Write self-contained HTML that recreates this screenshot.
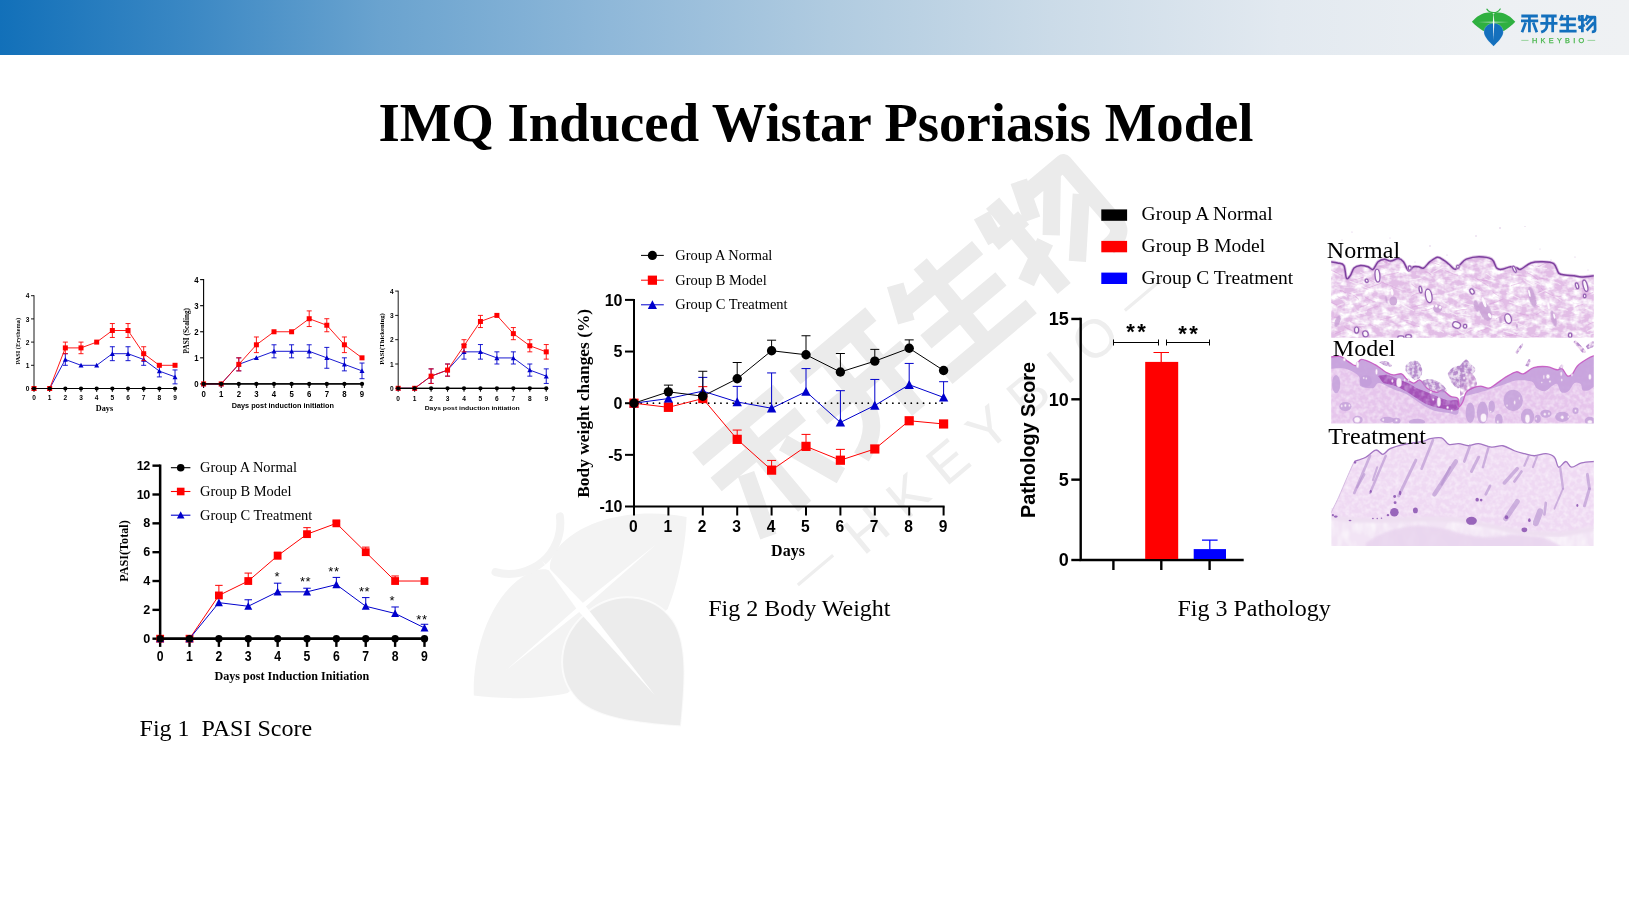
<!DOCTYPE html>
<html lang="en"><head><meta charset="utf-8"><title>IMQ Induced Wistar Psoriasis Model</title>
<style>
html,body{margin:0;padding:0;background:#fff;overflow:hidden;}
body{width:1629px;height:909px;position:relative;overflow:hidden;font-family:"Liberation Serif",serif;color:#000;}
#hdr{position:absolute;left:0;top:0;width:1629px;height:55px;background:linear-gradient(90deg,#1270b9 0px,#3b88c4 190px,#6aa3cf 380px,#8fb8d9 610px,#b0cbe0 830px,#cbdbe8 1050px,#e2e9f0 1280px,#edf0f3 1500px,#eff1f3 1629px);}
#art{position:absolute;left:0;top:0;will-change:transform;}
#hlogo{position:absolute;left:0;top:0;will-change:transform;}
h1{position:absolute;left:0;top:0;margin:0;width:1629px;text-align:center;font:bold 54.7px/1 "Liberation Serif",serif;white-space:nowrap;}
.cap{position:absolute;font:24px/1 "Liberation Serif",serif;white-space:pre;}
.lab{position:absolute;font:24px/1 "Liberation Serif",serif;white-space:pre;}
</style></head><body>
<div id="hdr"></div>
<svg id="art" width="1629" height="909" viewBox="0 0 1629 909">
<g transform="translate(580.2 606.3) rotate(-40) scale(6.4) translate(-1493.6 -21.8)">
<path d="M1471.9 21.8 C1476 16.5 1484 11.3 1490.5 12.6 C1492.3 13 1493.3 13.8 1493.6 14.6 C1493.9 13.8 1494.9 13 1496.7 12.6 C1503.2 11.3 1511.2 16.5 1515.3 21.8 C1512 25.5 1507 29.3 1503.8 30.9 L1483.4 30.9 C1480.2 29.3 1475.2 25.5 1471.9 21.8Z" fill="#f3f3f3"/>
<path d="M1486.9 9.2 C1488.5 11.6 1491.3 12.7 1493.6 12.7 C1495.9 12.7 1498.6 11.5 1500.2 9 " stroke="#f3f3f3" stroke-width="1.25" fill="none" stroke-linecap="round"/>
<path d="M1493.6 23.2 C1499.5 23.2 1503.6 27.6 1503.3 32.6 C1503 37.2 1497.5 42.5 1493.6 46.3 C1489.7 42.5 1484.2 37.2 1483.9 32.6 C1483.6 27.6 1487.7 23.2 1493.6 23.2Z" fill="#ececec" stroke="#ffffff" stroke-width="0.3" stroke-opacity="0.7"/>
<path d="M1493.6 12.5 L1494.3 22 L1493.6 40 L1492.9 22Z" fill="#ffffff" opacity="1"/>
<path d="M1478 22 L1493.6 21.65 L1509 22 L1493.6 22.4Z" fill="#ffffff" opacity="1"/>
<path transform="translate(1522.1 14.96) scale(0.172 0.174)" d="M2 6 H98 M0 34 H100 M49 0 V100 M27 44 L6 100 M71 44 L92 100" stroke="#ebebeb" stroke-width="15.61" fill="none" stroke-linejoin="round"/>
<path transform="translate(1541.4 14.96) scale(0.172 0.174)" d="M5 6 H95 M0 49 H100 M38.5 6 V60 Q38 88 5 99 M72 6 V100" stroke="#ebebeb" stroke-width="15.61" fill="none" stroke-linejoin="round"/>
<path transform="translate(1560.5 14.96) scale(0.172 0.174)" d="M18 0 L4 32 M9 22 H97 M47.6 0 V93 M6 57 H95 M0 93.4 H100" stroke="#ebebeb" stroke-width="15.61" fill="none" stroke-linejoin="round"/>
<path transform="translate(1579.5 14.96) scale(0.172 0.174)" d="M23 0 V100 M8 2 L3 28 M0 28 H36 M0 74 L37 57 M54 0 L41 34 M47 13 H96 L97 86 Q96 97 78 97 M81 15 L45 56 M90 45 L48 89" stroke="#ebebeb" stroke-width="15.61" fill="none" stroke-linejoin="round"/>
<text x="1532.5" y="44.3" font-size="8.4" letter-spacing="2.59" fill="#eeeeee" font-family="Liberation Sans, sans-serif">HKEYBIO</text>
<path d="M1521.8 41.1H1529M1588.5 41.1H1596.2" stroke="#eeeeee" stroke-width="0.5"/>
</g>
<defs>
<filter id="tex1" x="0" y="0" width="100%" height="100%" color-interpolation-filters="sRGB"><feTurbulence type="fractalNoise" baseFrequency="0.11 0.16" numOctaves="3" seed="3" result="n"/><feColorMatrix in="n" type="matrix" values="0 0 0 0 1  0 0 0 0 1  0 0 0 0 1  2.6 0 0 0 -0.92" result="w"/><feComposite in="w" in2="SourceGraphic" operator="in" result="ww"/><feMerge><feMergeNode in="SourceGraphic"/><feMergeNode in="ww"/></feMerge></filter>
<filter id="tex2" x="0" y="0" width="100%" height="100%" color-interpolation-filters="sRGB"><feTurbulence type="fractalNoise" baseFrequency="0.22" numOctaves="2" seed="7" result="n"/><feColorMatrix in="n" type="matrix" values="0 0 0 0 1  0 0 0 0 1  0 0 0 0 1  1.0 0 0 0 -0.36" result="w"/><feComposite in="w" in2="SourceGraphic" operator="in" result="ww"/><feMerge><feMergeNode in="SourceGraphic"/><feMergeNode in="ww"/></feMerge></filter>
<filter id="tex3" x="0" y="0" width="100%" height="100%" color-interpolation-filters="sRGB"><feTurbulence type="fractalNoise" baseFrequency="0.12 0.06" numOctaves="2" seed="11" result="n"/><feColorMatrix in="n" type="matrix" values="0 0 0 0 1  0 0 0 0 1  0 0 0 0 1  1.2 0 0 0 -0.4" result="w"/><feComposite in="w" in2="SourceGraphic" operator="in" result="ww"/><feMerge><feMergeNode in="SourceGraphic"/><feMergeNode in="ww"/></feMerge></filter>
<filter id="bl0" x="-50%" y="-50%" width="200%" height="200%"><feGaussianBlur stdDeviation="0.6"/></filter>
<filter id="mot" x="-5%" y="-5%" width="110%" height="110%" color-interpolation-filters="sRGB"><feTurbulence type="fractalNoise" baseFrequency="0.28" numOctaves="2" seed="4" result="n"/><feColorMatrix in="n" type="matrix" values="0 0 0 0 0  0 0 0 0 0  0 0 0 0 0  3.2 0 0 0 -1.05" result="a"/><feComposite in="SourceGraphic" in2="a" operator="in"/><feGaussianBlur stdDeviation="0.35"/></filter>
<filter id="mot2" x="-5%" y="-5%" width="110%" height="110%" color-interpolation-filters="sRGB"><feTurbulence type="fractalNoise" baseFrequency="0.2" numOctaves="2" seed="9" result="n"/><feColorMatrix in="n" type="matrix" values="0 0 0 0 0  0 0 0 0 0  0 0 0 0 0  2.6 0 0 0 -0.6" result="a"/><feComposite in="SourceGraphic" in2="a" operator="in"/><feGaussianBlur stdDeviation="0.5"/></filter>
<filter id="soft" x="0" y="0" width="100%" height="100%"><feGaussianBlur stdDeviation="0.45"/></filter>
<filter id="bl1" x="-10%" y="-10%" width="120%" height="120%"><feGaussianBlur stdDeviation="0.6"/></filter>
<filter id="bl2" x="-10%" y="-10%" width="120%" height="120%"><feGaussianBlur stdDeviation="1.2"/></filter>
<clipPath id="h1"><rect x="1331.2" y="226" width="262.6" height="111.8"/></clipPath>
<clipPath id="h2"><rect x="1331.2" y="338.1" width="262.6" height="85.5"/></clipPath>
<clipPath id="h3"><rect x="1331.2" y="424" width="262.6" height="121.9"/></clipPath>
</defs>
<g clip-path="url(#h1)"><g filter="url(#soft)">
<clipPath id="c1"><path d="M1330.2 261.71C1331.43 261.92 1335.31 262.34 1337.59 262.97C1339.88 263.61 1342.45 262.97 1343.92 265.51C1345.4 268.04 1345.4 276.48 1346.46 278.16C1347.51 279.85 1348.99 277.32 1350.25 275.63C1351.52 273.95 1352.36 269.73 1354.05 268.04C1355.74 266.35 1358.06 265.72 1360.38 265.51C1362.7 265.3 1365.86 266.14 1367.97 266.77C1370.08 267.41 1371.35 270.15 1373.04 269.3C1374.73 268.46 1376.2 263.4 1378.1 261.71C1380 260.02 1382.32 259.28 1384.43 259.18C1386.54 259.07 1388.44 261.18 1390.76 261.08C1393.08 260.97 1396.24 258.44 1398.35 258.54C1400.46 258.65 1401.73 259.7 1403.42 261.71C1405.11 263.71 1406.79 269.73 1408.48 270.57C1410.17 271.41 1411.86 267.41 1413.54 266.77C1415.23 266.14 1416.92 266.56 1418.61 266.77C1420.3 266.98 1421.77 268.88 1423.67 268.04C1425.57 267.19 1427.68 263.5 1430 261.71C1432.32 259.92 1435.27 257.49 1437.59 257.28C1439.92 257.07 1442.03 259.28 1443.92 260.44C1445.82 261.6 1447.09 262.76 1448.99 264.24C1450.89 265.72 1453.42 269.3 1455.32 269.3C1457.22 269.3 1458.54 265.93 1460.38 264.24C1462.22 262.55 1463.23 260.44 1466.33 259.18C1469.43 257.91 1474.77 256.65 1478.99 256.65C1483.21 256.65 1488.69 257.28 1491.65 259.18C1494.6 261.08 1495.02 266.35 1496.71 268.04C1498.4 269.73 1499.45 269.51 1501.77 269.3C1504.09 269.09 1508.1 266.98 1510.63 266.77C1513.16 266.56 1515.27 267.62 1516.96 268.04C1518.65 268.46 1518.44 270.15 1520.76 269.3C1523.08 268.46 1527.3 264.24 1530.89 262.97C1534.47 261.71 1538.48 261.6 1542.28 261.71C1546.08 261.81 1550.93 261.71 1553.67 263.61C1556.41 265.51 1556.84 271.2 1558.73 273.1C1560.63 275 1562.53 274.58 1565.06 275C1567.59 275.42 1571.18 275.32 1573.92 275.63C1576.67 275.95 1578.04 276.9 1581.52 276.9C1585 276.9 1592.59 275.84 1594.8 275.63L1594.8 340L1330.2 340Z"/></clipPath>
<path d="M1330.2 261.71C1331.43 261.92 1335.31 262.34 1337.59 262.97C1339.88 263.61 1342.45 262.97 1343.92 265.51C1345.4 268.04 1345.4 276.48 1346.46 278.16C1347.51 279.85 1348.99 277.32 1350.25 275.63C1351.52 273.95 1352.36 269.73 1354.05 268.04C1355.74 266.35 1358.06 265.72 1360.38 265.51C1362.7 265.3 1365.86 266.14 1367.97 266.77C1370.08 267.41 1371.35 270.15 1373.04 269.3C1374.73 268.46 1376.2 263.4 1378.1 261.71C1380 260.02 1382.32 259.28 1384.43 259.18C1386.54 259.07 1388.44 261.18 1390.76 261.08C1393.08 260.97 1396.24 258.44 1398.35 258.54C1400.46 258.65 1401.73 259.7 1403.42 261.71C1405.11 263.71 1406.79 269.73 1408.48 270.57C1410.17 271.41 1411.86 267.41 1413.54 266.77C1415.23 266.14 1416.92 266.56 1418.61 266.77C1420.3 266.98 1421.77 268.88 1423.67 268.04C1425.57 267.19 1427.68 263.5 1430 261.71C1432.32 259.92 1435.27 257.49 1437.59 257.28C1439.92 257.07 1442.03 259.28 1443.92 260.44C1445.82 261.6 1447.09 262.76 1448.99 264.24C1450.89 265.72 1453.42 269.3 1455.32 269.3C1457.22 269.3 1458.54 265.93 1460.38 264.24C1462.22 262.55 1463.23 260.44 1466.33 259.18C1469.43 257.91 1474.77 256.65 1478.99 256.65C1483.21 256.65 1488.69 257.28 1491.65 259.18C1494.6 261.08 1495.02 266.35 1496.71 268.04C1498.4 269.73 1499.45 269.51 1501.77 269.3C1504.09 269.09 1508.1 266.98 1510.63 266.77C1513.16 266.56 1515.27 267.62 1516.96 268.04C1518.65 268.46 1518.44 270.15 1520.76 269.3C1523.08 268.46 1527.3 264.24 1530.89 262.97C1534.47 261.71 1538.48 261.6 1542.28 261.71C1546.08 261.81 1550.93 261.71 1553.67 263.61C1556.41 265.51 1556.84 271.2 1558.73 273.1C1560.63 275 1562.53 274.58 1565.06 275C1567.59 275.42 1571.18 275.32 1573.92 275.63C1576.67 275.95 1578.04 276.9 1581.52 276.9C1585 276.9 1592.59 275.84 1594.8 275.63L1594.8 340L1330.2 340Z" fill="#e2bde6" filter="url(#tex1)"/>
<path d="M1496 318.83Q1503.67 314.63 1508.8 313.26M1453.13 335.36Q1459.22 333.74 1465.5 333.65M1474.43 305.06Q1478.42 307.23 1479.91 307.81M1369.71 323.37Q1371.37 326.39 1376.03 327.19M1383.3 275.67Q1392.41 274.11 1398.76 272.32M1510.98 274.79Q1519.82 274.99 1526.3 276.4M1424.66 271.61Q1428.32 271.75 1431.37 274.87M1511 285.71Q1514.8 284.32 1519.71 283.04M1518.29 262.67Q1527.02 262.93 1533.67 266.08M1540.94 288.03Q1544.89 292.65 1550.75 294.55M1379.77 319.97Q1386.77 318.24 1394.64 316.37M1537.63 266.86Q1542.27 265.19 1549.7 260.85M1351.06 285.94Q1358.22 284.66 1362.83 283.11M1411.37 283.98Q1415.29 287.44 1418.07 287.93M1370.23 261.98Q1376.76 265.34 1384.86 268.14M1551.45 295.36Q1555.11 296.01 1561.58 296.7M1554.76 268.71Q1561.85 265.17 1567.21 263.99M1444.66 270.24Q1452.88 273.93 1458.11 275.51M1592.26 295.19Q1596.84 293.31 1602.67 292.01M1366.14 288.91Q1373.57 285.63 1381 283.31M1350.5 280.33Q1358.06 279.48 1363.91 276.98M1515.55 312.45Q1521.49 314.04 1528.75 315.71M1536.03 314.65Q1540.44 311.57 1544.36 311.41M1475.31 278.56Q1482 280.61 1487.81 280.87M1421.03 310.81Q1428.56 310.33 1434.03 307.63M1513.84 338.04Q1520.19 341.6 1528.55 343.14M1581.73 297.13Q1586.68 295.42 1593.59 292.03M1484.54 312.58Q1489.95 314.28 1494.53 314.66M1333.73 271.12Q1338.87 273.99 1342.89 276.08M1337.61 296.67Q1340.6 297.84 1344.69 300.92M1378.91 260.92Q1384.28 261.66 1389.12 263.98M1572.41 258.05Q1575.89 260.99 1581.68 261.93M1428.12 260.96Q1433.39 263.14 1439.62 264.84M1587.43 325.12Q1591.8 322.21 1596.94 321.46M1488.65 304.24Q1495.51 302.73 1503.27 298.86M1326.46 266.85Q1331.85 271.01 1336.47 272.82M1428.66 293.4Q1432.41 295.2 1436.88 294.24M1575.29 306.86Q1579.14 305.03 1583.49 304.28M1594.51 298.32Q1598.66 300.46 1602.08 302.93M1406.1 322.1Q1412.17 325.73 1419.59 326.75M1539.35 278.14Q1543.05 278.87 1547.99 278.95M1455.58 310.88Q1462.33 309.45 1467.51 309.21M1471.63 285.56Q1475.4 287.91 1480 288.79M1487.25 260.99Q1492.64 261.68 1495.7 262.1M1330.17 321.83Q1335.56 322.99 1340.15 324.27M1574.73 289.61Q1579.01 289.75 1584.5 287.9M1344.21 326.57Q1350.85 330.69 1355.8 332.33M1365.1 297.23Q1369.26 299.92 1375.5 302.1M1547.5 263.61Q1551.76 260.45 1555.04 260.13M1523.18 338.25Q1532.15 336.54 1539.07 336.52M1502.23 336.08Q1509.37 337.93 1514 341.88M1492.65 291.94Q1494.64 293.69 1498.99 296.17M1345.83 262.72Q1349.97 259.85 1356.3 257.39M1411.95 307.22Q1415.9 306.46 1422.51 304.52M1367.39 309.77Q1372.99 307.27 1377.86 306.19M1476.59 278.84Q1481.58 281.93 1488.17 285.8M1527.04 272.7Q1533.08 275 1538.12 279.75M1360.22 306.71Q1363.7 306.37 1368.24 304.25M1334.23 317.45Q1338.02 316.99 1340.73 318.18M1357.84 337.76Q1364.47 336.39 1370.35 335.89M1390.27 285.33Q1394.74 288.73 1401.4 290.15M1502.81 323.97Q1508.01 322.6 1512.65 320.79M1527.97 290.43Q1529.64 293.29 1534.07 293.8M1457.32 320.35Q1460.65 320.57 1463.26 321.22M1453.12 266.18Q1456.23 268.84 1460.02 269.22M1367.67 278.83Q1370.8 280.73 1375.53 282.73M1334.95 333.81Q1339.96 331.9 1343.92 330.15M1583.92 267.67Q1590.74 268.28 1596.18 270.9M1381 260.04Q1386.24 261.26 1388.65 263.28M1411.21 296.38Q1414.26 293.88 1419.34 292.94M1509.44 335.12Q1514.15 334.42 1521.83 336.36M1538.63 291.63Q1541.89 291.48 1545.05 292.23M1351.77 263.84Q1357.87 263.97 1366.65 265.65M1339.95 290.58Q1342.42 290.51 1346.04 293.14M1336.45 337.67Q1340.13 337.94 1343.63 340.71M1411.77 266.85Q1418.2 264.05 1422.5 262.96M1330.95 302.25Q1336.3 305.11 1340.89 306.62M1575.08 283.22Q1579.09 281.69 1585.39 281.29M1350.09 321.34Q1354.91 324.24 1362.24 328.67M1349.19 293.15Q1354.72 295.01 1359.04 299.59M1380.68 281.45Q1384.62 284.06 1389.68 285.16M1477.79 331.48Q1483.53 330.35 1489.62 327.32M1504.88 336.29Q1512.32 334.59 1517.88 333.6M1361.7 263.41Q1364.78 263.07 1369.15 265.36M1534.41 303.69Q1536.67 306.39 1539.78 306.93" fill="none" stroke="#d596d8" stroke-width="0.9" opacity="0.5" clip-path="url(#c1)"/>
<path d="M1584.96 308.18Q1588.24 308.42 1592.54 311.58M1485.51 325.81Q1490.8 328.61 1498.05 330.15M1447.84 334.96Q1455.38 337.84 1460.43 340.96M1444.55 294.2Q1452.45 292.34 1457.53 289.9M1354.43 324.77Q1358.1 325.5 1364.58 325.77M1457.59 330.31Q1461.13 332.72 1466.46 334.77M1423.52 319.59Q1428.69 322.56 1430.98 323.48M1557.86 308.69Q1562.76 308.18 1567.72 310.44M1372.42 266.1Q1379.8 264.43 1385.4 263.81M1512.36 328.78Q1516.81 327.29 1524.21 325.73M1486.13 273.15Q1489.66 275.58 1494.31 278.71M1455.99 315.67Q1461.77 314.11 1465.01 311.39M1508.89 302.01Q1516.11 304.14 1522.25 306.15M1403.67 264.38Q1407.72 266.06 1410.22 266.45M1409.83 334.19Q1414.93 334.19 1418.52 333.16M1587.05 331.57Q1593.29 328.13 1598.87 326.44M1467.05 331.48Q1470.71 328.65 1475 328.81M1432.56 272.61Q1438.44 269.35 1443.65 266.77M1355.89 314.48Q1362.63 312.19 1367.06 311.62M1409.5 279.95Q1415.93 279.77 1421.57 278M1387.44 263.14Q1393.32 260.25 1397.83 257.85M1442.16 301.36Q1449.21 306.12 1455.62 308.09M1377.24 260.5Q1379.72 260.61 1384.09 262.58M1488.27 311Q1494.63 311.27 1501.08 309.53M1587.14 284.11Q1593.52 285.61 1601.52 285.93M1555.38 297.09Q1557.18 297.81 1561.43 300.63M1494.05 266.6Q1501.09 264.33 1506.32 260.77M1578.1 336.47Q1582.99 334.35 1590.25 334.85M1382.47 288.7Q1386.38 289.58 1392.8 291.03M1474.35 288.76Q1478.18 290.2 1480.92 291.66M1588.63 335.49Q1591.11 333.03 1594.82 332.86M1456.78 287.04Q1462.62 285.36 1469.72 283.68M1516.17 322.7Q1522.54 325.23 1526.83 327.65M1339.94 292.5Q1342.77 293.56 1346.98 297.04M1456.38 338.74Q1460.82 339 1467.71 340.13M1547.22 258.42Q1552.1 262.16 1558.47 266.16M1430.56 300.37Q1433.63 300.62 1437.05 301.03M1349.47 280.89Q1355.44 283.2 1364.1 286.15M1538.4 293.65Q1544.38 290.1 1549.54 289.34M1332.69 321.1Q1338.51 318.55 1341.83 316.72M1598.54 320.01Q1605.61 322.92 1613.16 323M1597.21 275.77Q1601.34 278.09 1606.75 279.41M1359.82 271.88Q1365.86 275.15 1369.52 276.1M1379.77 259.52Q1385.39 256.29 1393.2 254.64M1577.04 334.88Q1579.26 336.83 1582.89 337.26M1427.86 321.57Q1432.21 320.71 1435.35 322.32M1356.45 310.77Q1361.26 313.89 1365.58 314.21M1391.87 304.63Q1394.98 305.55 1400.28 306.58M1518.59 258.67Q1525.37 261.88 1531.48 263.33M1341.48 299.04Q1342.95 299.77 1347.28 301.7M1448.88 311.7Q1456.72 315.51 1463.29 316.69M1585.08 339.02Q1588.28 339.42 1594.03 340.12M1526.89 301.36Q1531.87 301.28 1536.54 299.22M1363.82 286.78Q1368.48 288.09 1373.41 292.05M1350.17 286.05Q1353.14 286.16 1357.45 284.56M1528.24 279.49Q1535.19 281.56 1541.36 285.16M1398 329.87Q1402.04 327.68 1408.25 328.17M1527.85 304.02Q1530.83 305.68 1533.85 305.11M1337.04 306.29Q1340.74 304.21 1343.77 303.8M1584.9 267.1Q1586.41 268.75 1590.52 270.64M1503.08 331.15Q1510.47 331.8 1515.8 334.73M1531.88 279.21Q1536.31 281.37 1540.66 281.12M1453.1 270.74Q1456.27 269.98 1461.21 271.68M1422.36 264.49Q1426.32 264.77 1432.24 267.22M1460.1 314.35Q1464.23 314.35 1470.48 315.74M1460.8 301.96Q1467.8 304.77 1475.28 305.88M1554.07 282.08Q1558.47 282.82 1560.53 284.99M1497.77 310.53Q1504.89 310.95 1513 313.74M1498.49 327.24Q1504.03 328.25 1510.26 328.44M1523.56 279.38Q1526.52 282.71 1532.1 284.74M1438.11 329.31Q1442.32 331.82 1443.87 332.59M1570.54 299.52Q1572.23 301.38 1576.75 302.85M1405.25 266.84Q1410.02 262.99 1415 261.51M1535.75 267.41Q1541.54 267.76 1547.07 268.48M1400.4 303.18Q1407.34 308.21 1414.19 310.74M1430.27 309.98Q1437.82 310.3 1445.19 312.79M1340.81 335Q1346.31 335.69 1351.38 336.38M1403.66 319.02Q1408.15 318.83 1412.02 320.84M1381.46 314.99Q1386.98 314.58 1394.7 316.16M1350.66 294.6Q1357.28 292.46 1362.71 292.68M1484.41 278.65Q1487.93 280.55 1493.71 280.87M1417.92 306.52Q1425.3 306.81 1430.17 308.41M1417.19 329.91Q1422.01 330.2 1423.96 332.72M1504.77 320.08Q1510.8 321.91 1517.96 321.62M1506.48 292.51Q1513.7 295.54 1519.53 298.54" fill="none" stroke="#fff" stroke-width="1.1" opacity="0.55" clip-path="url(#c1)"/>
<circle cx="1352" cy="232" r="0.6" fill="#c9a6d6" opacity="0.7"/>
<circle cx="1390" cy="238" r="0.5" fill="#c9a6d6" opacity="0.7"/>
<circle cx="1430" cy="246" r="0.7" fill="#c9a6d6" opacity="0.7"/>
<circle cx="1447" cy="255" r="0.6" fill="#c9a6d6" opacity="0.7"/>
<circle cx="1476" cy="236" r="0.7" fill="#c9a6d6" opacity="0.7"/>
<circle cx="1500" cy="228" r="0.8" fill="#c9a6d6" opacity="0.7"/>
<circle cx="1525" cy="226" r="0.7" fill="#c9a6d6" opacity="0.7"/>
<circle cx="1551" cy="260" r="0.6" fill="#c9a6d6" opacity="0.7"/>
<circle cx="1575" cy="257" r="0.6" fill="#c9a6d6" opacity="0.7"/>
<circle cx="1482" cy="257" r="0.5" fill="#c9a6d6" opacity="0.7"/>
<circle cx="1540" cy="249" r="0.5" fill="#c9a6d6" opacity="0.7"/>
<circle cx="1342" cy="240" r="0.5" fill="#c9a6d6" opacity="0.7"/>
<circle cx="1415" cy="262" r="0.5" fill="#c9a6d6" opacity="0.7"/>
<circle cx="1466" cy="262" r="0.5" fill="#c9a6d6" opacity="0.7"/>
<circle cx="1588" cy="270" r="0.5" fill="#c9a6d6" opacity="0.7"/>
<path d="M1330.2 261.71C1331.43 261.92 1335.31 262.34 1337.59 262.97C1339.88 263.61 1342.45 262.97 1343.92 265.51C1345.4 268.04 1345.4 276.48 1346.46 278.16C1347.51 279.85 1348.99 277.32 1350.25 275.63C1351.52 273.95 1352.36 269.73 1354.05 268.04C1355.74 266.35 1358.06 265.72 1360.38 265.51C1362.7 265.3 1365.86 266.14 1367.97 266.77C1370.08 267.41 1371.35 270.15 1373.04 269.3C1374.73 268.46 1376.2 263.4 1378.1 261.71C1380 260.02 1382.32 259.28 1384.43 259.18C1386.54 259.07 1388.44 261.18 1390.76 261.08C1393.08 260.97 1396.24 258.44 1398.35 258.54C1400.46 258.65 1401.73 259.7 1403.42 261.71C1405.11 263.71 1406.79 269.73 1408.48 270.57C1410.17 271.41 1411.86 267.41 1413.54 266.77C1415.23 266.14 1416.92 266.56 1418.61 266.77C1420.3 266.98 1421.77 268.88 1423.67 268.04C1425.57 267.19 1427.68 263.5 1430 261.71C1432.32 259.92 1435.27 257.49 1437.59 257.28C1439.92 257.07 1442.03 259.28 1443.92 260.44C1445.82 261.6 1447.09 262.76 1448.99 264.24C1450.89 265.72 1453.42 269.3 1455.32 269.3C1457.22 269.3 1458.54 265.93 1460.38 264.24C1462.22 262.55 1463.23 260.44 1466.33 259.18C1469.43 257.91 1474.77 256.65 1478.99 256.65C1483.21 256.65 1488.69 257.28 1491.65 259.18C1494.6 261.08 1495.02 266.35 1496.71 268.04C1498.4 269.73 1499.45 269.51 1501.77 269.3C1504.09 269.09 1508.1 266.98 1510.63 266.77C1513.16 266.56 1515.27 267.62 1516.96 268.04C1518.65 268.46 1518.44 270.15 1520.76 269.3C1523.08 268.46 1527.3 264.24 1530.89 262.97C1534.47 261.71 1538.48 261.6 1542.28 261.71C1546.08 261.81 1550.93 261.71 1553.67 263.61C1556.41 265.51 1556.84 271.2 1558.73 273.1C1560.63 275 1562.53 274.58 1565.06 275C1567.59 275.42 1571.18 275.32 1573.92 275.63C1576.67 275.95 1578.04 276.9 1581.52 276.9C1585 276.9 1592.59 275.84 1594.8 275.63" fill="none" stroke="#c79bd4" stroke-width="3.2" opacity="0.6"/>
<path d="M1330.2 261.71C1331.43 261.92 1335.31 262.34 1337.59 262.97C1339.88 263.61 1342.45 262.97 1343.92 265.51C1345.4 268.04 1345.4 276.48 1346.46 278.16C1347.51 279.85 1348.99 277.32 1350.25 275.63C1351.52 273.95 1352.36 269.73 1354.05 268.04C1355.74 266.35 1358.06 265.72 1360.38 265.51C1362.7 265.3 1365.86 266.14 1367.97 266.77C1370.08 267.41 1371.35 270.15 1373.04 269.3C1374.73 268.46 1376.2 263.4 1378.1 261.71C1380 260.02 1382.32 259.28 1384.43 259.18C1386.54 259.07 1388.44 261.18 1390.76 261.08C1393.08 260.97 1396.24 258.44 1398.35 258.54C1400.46 258.65 1401.73 259.7 1403.42 261.71C1405.11 263.71 1406.79 269.73 1408.48 270.57C1410.17 271.41 1411.86 267.41 1413.54 266.77C1415.23 266.14 1416.92 266.56 1418.61 266.77C1420.3 266.98 1421.77 268.88 1423.67 268.04C1425.57 267.19 1427.68 263.5 1430 261.71C1432.32 259.92 1435.27 257.49 1437.59 257.28C1439.92 257.07 1442.03 259.28 1443.92 260.44C1445.82 261.6 1447.09 262.76 1448.99 264.24C1450.89 265.72 1453.42 269.3 1455.32 269.3C1457.22 269.3 1458.54 265.93 1460.38 264.24C1462.22 262.55 1463.23 260.44 1466.33 259.18C1469.43 257.91 1474.77 256.65 1478.99 256.65C1483.21 256.65 1488.69 257.28 1491.65 259.18C1494.6 261.08 1495.02 266.35 1496.71 268.04C1498.4 269.73 1499.45 269.51 1501.77 269.3C1504.09 269.09 1508.1 266.98 1510.63 266.77C1513.16 266.56 1515.27 267.62 1516.96 268.04C1518.65 268.46 1518.44 270.15 1520.76 269.3C1523.08 268.46 1527.3 264.24 1530.89 262.97C1534.47 261.71 1538.48 261.6 1542.28 261.71C1546.08 261.81 1550.93 261.71 1553.67 263.61C1556.41 265.51 1556.84 271.2 1558.73 273.1C1560.63 275 1562.53 274.58 1565.06 275C1567.59 275.42 1571.18 275.32 1573.92 275.63C1576.67 275.95 1578.04 276.9 1581.52 276.9C1585 276.9 1592.59 275.84 1594.8 275.63" fill="none" stroke="#7d3f9e" stroke-width="1.5" stroke-linejoin="round"/>
<ellipse cx="1377.47" cy="275.63" rx="3.57" ry="7.58" transform="rotate(-5 1377.47 275.63)" fill="#cfa6da" opacity="0.7"/>
<ellipse cx="1377.47" cy="275.63" rx="2.37" ry="6.38" transform="rotate(-5 1377.47 275.63)" fill="#fbf5fb" stroke="#9460b2" stroke-width="1.2"/>
<ellipse cx="1366.71" cy="280.7" rx="2.62" ry="2.87" transform="rotate(-30 1366.71 280.7)" fill="#cfa6da" opacity="0.7"/>
<ellipse cx="1366.71" cy="280.7" rx="1.42" ry="1.67" transform="rotate(-30 1366.71 280.7)" fill="#fbf5fb" stroke="#9460b2" stroke-width="1.2"/>
<ellipse cx="1392.03" cy="292.09" rx="1.42" ry="3.34" transform="rotate(-10 1392.03 292.09)" fill="#fdf9fd"/>
<ellipse cx="1393.29" cy="300.95" rx="3.96" ry="4.56" transform="rotate(0 1393.29 300.95)" fill="#c9a0d6" opacity="0.85" filter="url(#bl1)"/>
<ellipse cx="1420.51" cy="289.56" rx="2.47" ry="4.54" transform="rotate(-10 1420.51 289.56)" fill="#cfa6da" opacity="0.7"/>
<ellipse cx="1420.51" cy="289.56" rx="1.27" ry="3.34" transform="rotate(-10 1420.51 289.56)" fill="#fbf5fb" stroke="#9460b2" stroke-width="1.2"/>
<ellipse cx="1428.73" cy="295.89" rx="4.36" ry="8.04" transform="rotate(-10 1428.73 295.89)" fill="#cfa6da" opacity="0.7"/>
<ellipse cx="1428.73" cy="295.89" rx="3.16" ry="6.84" transform="rotate(-10 1428.73 295.89)" fill="#fbf5fb" stroke="#9460b2" stroke-width="1.2"/>
<ellipse cx="1437.59" cy="308.54" rx="4.43" ry="4.25" transform="rotate(0 1437.59 308.54)" fill="#c9a0d6" opacity="0.85" filter="url(#bl1)"/>
<ellipse cx="1436.33" cy="306.01" rx="1.27" ry="1.52" transform="rotate(0 1436.33 306.01)" fill="#fdf9fd"/>
<ellipse cx="1440.13" cy="307.28" rx="1.27" ry="1.52" transform="rotate(0 1440.13 307.28)" fill="#fdf9fd"/>
<ellipse cx="1337.59" cy="321.2" rx="2.53" ry="6.08" transform="rotate(20 1337.59 321.2)" fill="#c9a0d6" opacity="0.85" filter="url(#bl1)"/>
<ellipse cx="1356.58" cy="330.06" rx="3.26" ry="4.24" transform="rotate(0 1356.58 330.06)" fill="#cfa6da" opacity="0.7"/>
<ellipse cx="1356.58" cy="330.06" rx="2.06" ry="3.04" transform="rotate(0 1356.58 330.06)" fill="#fbf5fb" stroke="#9460b2" stroke-width="1.2"/>
<ellipse cx="1365.44" cy="333.86" rx="3.89" ry="4.24" transform="rotate(-20 1365.44 333.86)" fill="#cfa6da" opacity="0.7"/>
<ellipse cx="1365.44" cy="333.86" rx="2.69" ry="3.04" transform="rotate(-20 1365.44 333.86)" fill="#fbf5fb" stroke="#9460b2" stroke-width="1.2"/>
<ellipse cx="1456.58" cy="325" rx="5.16" ry="4.24" transform="rotate(20 1456.58 325)" fill="#cfa6da" opacity="0.7"/>
<ellipse cx="1456.58" cy="325" rx="3.96" ry="3.04" transform="rotate(20 1456.58 325)" fill="#fbf5fb" stroke="#9460b2" stroke-width="1.2"/>
<ellipse cx="1409.75" cy="268.04" rx="2.62" ry="3.33" transform="rotate(0 1409.75 268.04)" fill="#cfa6da" opacity="0.7"/>
<ellipse cx="1409.75" cy="268.04" rx="1.42" ry="2.13" transform="rotate(0 1409.75 268.04)" fill="#fbf5fb" stroke="#9460b2" stroke-width="1.2"/>
<ellipse cx="1457.85" cy="266.77" rx="2.47" ry="2.72" transform="rotate(0 1457.85 266.77)" fill="#cfa6da" opacity="0.7"/>
<ellipse cx="1457.85" cy="266.77" rx="1.27" ry="1.52" transform="rotate(0 1457.85 266.77)" fill="#fbf5fb" stroke="#9460b2" stroke-width="1.2"/>
<ellipse cx="1386.33" cy="299.68" rx="0.95" ry="3.8" transform="rotate(-10 1386.33 299.68)" fill="#c9a0d6" opacity="0.85" filter="url(#bl1)"/>
<ellipse cx="1400.89" cy="337.66" rx="4.36" ry="3.02" transform="rotate(0 1400.89 337.66)" fill="#cfa6da" opacity="0.7"/>
<ellipse cx="1400.89" cy="337.66" rx="3.16" ry="1.82" transform="rotate(0 1400.89 337.66)" fill="#fbf5fb" stroke="#9460b2" stroke-width="1.2"/>
<ellipse cx="1408.48" cy="336.39" rx="4.05" ry="3.02" transform="rotate(0 1408.48 336.39)" fill="#cfa6da" opacity="0.7"/>
<ellipse cx="1408.48" cy="336.39" rx="2.85" ry="1.82" transform="rotate(0 1408.48 336.39)" fill="#fbf5fb" stroke="#9460b2" stroke-width="1.2"/>
<ellipse cx="1472.03" cy="291.46" rx="3.1" ry="3.93" transform="rotate(-30 1472.03 291.46)" fill="#cfa6da" opacity="0.7"/>
<ellipse cx="1472.03" cy="291.46" rx="1.9" ry="2.73" transform="rotate(-30 1472.03 291.46)" fill="#fbf5fb" stroke="#9460b2" stroke-width="1.2"/>
<ellipse cx="1485.32" cy="311.08" rx="5.54" ry="10.63" transform="rotate(-25 1485.32 311.08)" fill="#c9a0d6" opacity="0.85" filter="url(#bl1)"/>
<ellipse cx="1484.05" cy="302.22" rx="1.42" ry="5.32" transform="rotate(-20 1484.05 302.22)" fill="#fdf9fd"/>
<ellipse cx="1489.75" cy="315.51" rx="1.42" ry="2.73" transform="rotate(-30 1489.75 315.51)" fill="#fdf9fd"/>
<ellipse cx="1508.1" cy="318.67" rx="4.36" ry="6.06" transform="rotate(-15 1508.1 318.67)" fill="#cfa6da" opacity="0.7"/>
<ellipse cx="1508.1" cy="318.67" rx="3.16" ry="4.86" transform="rotate(-15 1508.1 318.67)" fill="#fbf5fb" stroke="#9460b2" stroke-width="1.2"/>
<ellipse cx="1532.15" cy="297.15" rx="3.48" ry="10.63" transform="rotate(-15 1532.15 297.15)" fill="#c9a0d6" opacity="0.85" filter="url(#bl1)"/>
<ellipse cx="1529.37" cy="293.35" rx="0.95" ry="3.8" transform="rotate(-12 1529.37 293.35)" fill="#fdf9fd"/>
<ellipse cx="1548.61" cy="306.01" rx="1.11" ry="3.34" transform="rotate(-10 1548.61 306.01)" fill="#fdf9fd"/>
<ellipse cx="1553.67" cy="318.67" rx="2.53" ry="8.35" transform="rotate(-15 1553.67 318.67)" fill="#c9a0d6" opacity="0.85" filter="url(#bl1)"/>
<ellipse cx="1554.3" cy="316.14" rx="0.95" ry="2.73" transform="rotate(-15 1554.3 316.14)" fill="#fdf9fd"/>
<ellipse cx="1577.09" cy="285.76" rx="2.62" ry="4.24" transform="rotate(-15 1577.09 285.76)" fill="#cfa6da" opacity="0.7"/>
<ellipse cx="1577.09" cy="285.76" rx="1.42" ry="3.04" transform="rotate(-15 1577.09 285.76)" fill="#fbf5fb" stroke="#9460b2" stroke-width="1.2"/>
<ellipse cx="1585.32" cy="285.76" rx="3.26" ry="6.97" transform="rotate(-15 1585.32 285.76)" fill="#cfa6da" opacity="0.7"/>
<ellipse cx="1585.32" cy="285.76" rx="2.06" ry="5.77" transform="rotate(-15 1585.32 285.76)" fill="#fbf5fb" stroke="#9460b2" stroke-width="1.2"/>
<ellipse cx="1584.68" cy="295.89" rx="2.47" ry="3.02" transform="rotate(0 1584.68 295.89)" fill="#cfa6da" opacity="0.7"/>
<ellipse cx="1584.68" cy="295.89" rx="1.27" ry="1.82" transform="rotate(0 1584.68 295.89)" fill="#fbf5fb" stroke="#9460b2" stroke-width="1.2"/>
<ellipse cx="1465.06" cy="326.27" rx="2.78" ry="3.02" transform="rotate(0 1465.06 326.27)" fill="#cfa6da" opacity="0.7"/>
<ellipse cx="1465.06" cy="326.27" rx="1.58" ry="1.82" transform="rotate(0 1465.06 326.27)" fill="#fbf5fb" stroke="#9460b2" stroke-width="1.2"/>
<ellipse cx="1476.46" cy="306.01" rx="2.53" ry="6.08" transform="rotate(-15 1476.46 306.01)" fill="#c9a0d6" opacity="0.85" filter="url(#bl1)"/>
<ellipse cx="1500.51" cy="319.94" rx="1.27" ry="3.34" transform="rotate(-10 1500.51 319.94)" fill="#c9a0d6" opacity="0.85" filter="url(#bl1)"/>
<ellipse cx="1514.43" cy="269.3" rx="2.47" ry="4.54" transform="rotate(-25 1514.43 269.3)" fill="#cfa6da" opacity="0.7"/>
<ellipse cx="1514.43" cy="269.3" rx="1.27" ry="3.34" transform="rotate(-25 1514.43 269.3)" fill="#fbf5fb" stroke="#9460b2" stroke-width="1.2"/>
<ellipse cx="1516.96" cy="326.27" rx="0.95" ry="2.73" transform="rotate(-10 1516.96 326.27)" fill="#c9a0d6" opacity="0.85" filter="url(#bl1)"/>
<ellipse cx="1570.13" cy="335.13" rx="2.78" ry="3.33" transform="rotate(0 1570.13 335.13)" fill="#cfa6da" opacity="0.7"/>
<ellipse cx="1570.13" cy="335.13" rx="1.58" ry="2.13" transform="rotate(0 1570.13 335.13)" fill="#fbf5fb" stroke="#9460b2" stroke-width="1.2"/>
</g></g>
<g clip-path="url(#h2)"><g filter="url(#soft)">
<path d="M1330.2 356.98C1331.87 356.9 1337.19 355.71 1340.22 356.47C1343.26 357.24 1345.85 360.05 1348.4 361.58C1350.96 363.12 1353.52 366.02 1355.56 365.67C1357.61 365.33 1358.46 360.22 1360.67 359.54C1362.89 358.86 1366.47 360.73 1368.85 361.58C1371.24 362.44 1372.94 363.46 1374.99 364.65C1377.03 365.85 1379.08 367.38 1381.12 368.74C1383.17 370.11 1385.21 371.81 1387.26 372.83C1389.3 373.85 1391.01 374.71 1393.39 374.88C1395.78 375.05 1399.36 373.17 1401.57 373.85C1403.79 374.54 1404.64 377.43 1406.69 378.97C1408.73 380.5 1411.63 382.89 1413.84 383.06C1416.06 383.23 1417.76 379.14 1419.98 379.99C1422.19 380.84 1424.41 386.12 1427.14 388.17C1429.86 390.21 1433.78 391.92 1436.34 392.26C1438.9 392.6 1440.09 389.53 1442.47 390.21C1444.86 390.9 1448.1 394.99 1450.65 396.35C1453.21 397.71 1456.41 396.69 1457.81 398.39C1459.21 400.1 1458.19 406.06 1459.04 406.57C1459.89 407.09 1461.74 403.85 1462.92 401.46C1464.11 399.08 1464.58 394.48 1466.13 392.26C1467.69 390.04 1469.88 389.19 1472.27 388.17C1474.66 387.15 1477.72 386.12 1480.45 386.12C1483.18 386.12 1486.07 388.51 1488.63 388.17C1491.19 387.83 1492.89 385.95 1495.79 384.08C1498.68 382.21 1502.6 378.97 1506.01 376.92C1509.42 374.88 1513.34 372.32 1516.24 371.81C1519.13 371.3 1520.5 374.54 1523.39 373.85C1526.29 373.17 1529.7 368.91 1533.62 367.72C1537.54 366.53 1542.99 366.36 1546.91 366.7C1550.83 367.04 1554.58 369.42 1557.14 369.76C1559.69 370.11 1560.55 367.72 1562.25 368.74C1563.95 369.76 1565.66 375.05 1567.36 375.9C1569.07 376.75 1570.77 375.56 1572.47 373.85C1574.18 372.15 1575.03 368.23 1577.59 365.67C1580.14 363.12 1584.94 360.22 1587.81 358.52C1590.68 356.81 1593.64 355.96 1594.8 355.45L1594.8 426L1330.2 426Z" fill="#e6c5ec" filter="url(#tex2)"/>
<ellipse cx="1345.34" cy="406.57" rx="6.13" ry="4.6" fill="#c3a0da" opacity="0.8" filter="url(#bl1)"/>
<ellipse cx="1336.13" cy="384.08" rx="4.09" ry="9.2" fill="#c3a0da" opacity="0.8" filter="url(#bl1)"/>
<ellipse cx="1365.79" cy="381.01" rx="6.13" ry="6.13" fill="#c3a0da" opacity="0.8" filter="url(#bl1)"/>
<ellipse cx="1357.61" cy="419.87" rx="5.11" ry="4.09" fill="#c3a0da" opacity="0.8" filter="url(#bl1)"/>
<ellipse cx="1387.26" cy="419.87" rx="7.16" ry="3.07" fill="#c3a0da" opacity="0.8" filter="url(#bl1)"/>
<ellipse cx="1396.46" cy="420.89" rx="4.09" ry="3.07" fill="#c3a0da" opacity="0.8" filter="url(#bl1)"/>
<ellipse cx="1416.91" cy="421.91" rx="8.18" ry="3.07" fill="#c3a0da" opacity="0.8" filter="url(#bl1)"/>
<ellipse cx="1513.17" cy="400.44" rx="9.71" ry="10.74" fill="#c3a0da" opacity="0.8" filter="url(#bl1)"/>
<ellipse cx="1470.22" cy="412.71" rx="4.6" ry="10.22" fill="#c3a0da" opacity="0.8" filter="url(#bl1)"/>
<ellipse cx="1482.49" cy="412.71" rx="5.62" ry="11.25" fill="#c3a0da" opacity="0.8" filter="url(#bl1)"/>
<ellipse cx="1491.7" cy="406.57" rx="3.27" ry="6.13" fill="#c3a0da" opacity="0.8" filter="url(#bl1)"/>
<ellipse cx="1498.85" cy="419.87" rx="3.89" ry="6.13" fill="#c3a0da" opacity="0.8" filter="url(#bl1)"/>
<ellipse cx="1527.48" cy="416.8" rx="6.65" ry="8.18" fill="#c3a0da" opacity="0.8" filter="url(#bl1)"/>
<ellipse cx="1545.89" cy="413.73" rx="5.62" ry="4.09" fill="#c3a0da" opacity="0.8" filter="url(#bl1)"/>
<ellipse cx="1562.25" cy="416.8" rx="7.16" ry="5.11" fill="#c3a0da" opacity="0.8" filter="url(#bl1)"/>
<ellipse cx="1575.54" cy="410.66" rx="3.07" ry="3.27" fill="#c3a0da" opacity="0.8" filter="url(#bl1)"/>
<ellipse cx="1589.86" cy="420.89" rx="5.11" ry="4.09" fill="#c3a0da" opacity="0.8" filter="url(#bl1)"/>
<ellipse cx="1537.71" cy="418.84" rx="3.07" ry="4.09" fill="#c3a0da" opacity="0.8" filter="url(#bl1)"/>
<path d="M1330.2 356.98C1331.87 356.9 1337.19 355.71 1340.22 356.47C1343.26 357.24 1345.85 360.05 1348.4 361.58C1350.96 363.12 1353.52 366.02 1355.56 365.67C1357.61 365.33 1358.46 360.22 1360.67 359.54C1362.89 358.86 1366.47 360.73 1368.85 361.58C1371.24 362.44 1372.94 363.46 1374.99 364.65C1377.03 365.85 1379.08 367.38 1381.12 368.74C1383.17 370.11 1385.21 371.81 1387.26 372.83C1389.3 373.85 1391.01 374.71 1393.39 374.88C1395.78 375.05 1399.36 373.17 1401.57 373.85C1403.79 374.54 1404.64 377.43 1406.69 378.97C1408.73 380.5 1411.63 382.89 1413.84 383.06C1416.06 383.23 1417.76 379.14 1419.98 379.99C1422.19 380.84 1424.41 386.12 1427.14 388.17C1429.86 390.21 1433.78 391.92 1436.34 392.26C1438.9 392.6 1440.09 389.53 1442.47 390.21C1444.86 390.9 1448.1 394.99 1450.65 396.35C1453.21 397.71 1456.41 396.69 1457.81 398.39C1459.21 400.1 1458.19 406.06 1459.04 406.57C1459.89 407.09 1461.74 403.85 1462.92 401.46C1464.11 399.08 1464.58 394.48 1466.13 392.26C1467.69 390.04 1469.88 389.19 1472.27 388.17C1474.66 387.15 1477.72 386.12 1480.45 386.12C1483.18 386.12 1486.07 388.51 1488.63 388.17C1491.19 387.83 1492.89 385.95 1495.79 384.08C1498.68 382.21 1502.6 378.97 1506.01 376.92C1509.42 374.88 1513.34 372.32 1516.24 371.81C1519.13 371.3 1520.5 374.54 1523.39 373.85C1526.29 373.17 1529.7 368.91 1533.62 367.72C1537.54 366.53 1542.99 366.36 1546.91 366.7C1550.83 367.04 1554.58 369.42 1557.14 369.76C1559.69 370.11 1560.55 367.72 1562.25 368.74C1563.95 369.76 1565.66 375.05 1567.36 375.9C1569.07 376.75 1570.77 375.56 1572.47 373.85C1574.18 372.15 1575.03 368.23 1577.59 365.67C1580.14 363.12 1584.94 360.22 1587.81 358.52C1590.68 356.81 1593.64 355.96 1594.8 355.45L1594.8 386.12C1593.81 386.81 1590.85 389.53 1588.83 390.21C1586.82 390.9 1584.06 391.24 1582.7 390.21C1581.34 389.19 1582.02 385.27 1580.65 384.08C1579.29 382.89 1576.56 381.86 1574.52 383.06C1572.47 384.25 1570.6 389.7 1568.38 391.24C1566.17 392.77 1563.1 393.45 1561.23 392.26C1559.35 391.07 1558.67 385.1 1557.14 384.08C1555.6 383.06 1554.07 384.93 1552.02 386.12C1549.98 387.32 1547.42 390.9 1544.87 391.24C1542.31 391.58 1538.9 389.79 1536.69 388.17C1534.47 386.55 1534.98 382.8 1531.57 381.52C1528.17 380.25 1521.35 379.82 1516.24 380.5C1511.12 381.18 1506.01 383.91 1500.9 385.61C1495.79 387.32 1490.67 389.19 1485.56 390.73C1480.45 392.26 1474.49 393.54 1470.22 394.82C1465.96 396.09 1462.07 395.24 1460 398.39C1457.93 401.55 1459.88 411.35 1457.81 413.73C1455.74 416.12 1451.51 413.22 1447.59 412.71C1443.67 412.2 1438.55 412.03 1434.29 410.66C1430.03 409.3 1426.63 407.26 1422.02 404.53C1417.42 401.8 1411.46 396.86 1406.69 394.3C1401.92 391.75 1398 391.07 1393.39 389.19C1388.79 387.32 1382.49 383.23 1379.08 383.06C1375.67 382.89 1376.01 387.66 1372.94 388.17C1369.88 388.68 1363.06 388.17 1360.67 386.12C1358.29 384.08 1361.19 378.8 1358.63 375.9C1356.07 373 1350.08 369.94 1345.34 368.74C1340.6 367.55 1332.72 368.74 1330.2 368.74Z" fill="#c39edb" opacity="0.85"/>
<path d="M1378.06 375.9C1379.59 375.73 1384.36 374.54 1387.26 374.88C1390.16 375.22 1392.03 376.58 1395.44 377.94C1398.85 379.31 1404.13 381.35 1407.71 383.06C1411.29 384.76 1413.67 386.64 1416.91 388.17C1420.15 389.7 1423.9 390.9 1427.14 392.26C1430.37 393.62 1432.93 394.99 1436.34 396.35C1439.75 397.71 1444.01 399.76 1447.59 400.44C1451.17 401.12 1455.9 399.08 1457.81 400.44C1459.72 401.8 1459.89 406.92 1459.04 408.62C1458.19 410.32 1455.46 410.66 1452.7 410.66C1449.94 410.66 1446.22 409.47 1442.47 408.62C1438.73 407.77 1433.95 406.92 1430.2 405.55C1426.46 404.19 1423.73 402.66 1419.98 400.44C1416.23 398.22 1411.8 394.65 1407.71 392.26C1403.62 389.87 1399.53 387.66 1395.44 386.12C1391.35 384.59 1385.21 383.57 1383.17 383.06Z" fill="#b46cc4" opacity="0.55" filter="url(#bl1)"/>
<path d="M1378.06 375.9C1379.59 375.73 1384.36 374.54 1387.26 374.88C1390.16 375.22 1392.03 376.58 1395.44 377.94C1398.85 379.31 1404.13 381.35 1407.71 383.06C1411.29 384.76 1413.67 386.64 1416.91 388.17C1420.15 389.7 1423.9 390.9 1427.14 392.26C1430.37 393.62 1432.93 394.99 1436.34 396.35C1439.75 397.71 1444.01 399.76 1447.59 400.44C1451.17 401.12 1455.9 399.08 1457.81 400.44C1459.72 401.8 1459.89 406.92 1459.04 408.62C1458.19 410.32 1455.46 410.66 1452.7 410.66C1449.94 410.66 1446.22 409.47 1442.47 408.62C1438.73 407.77 1433.95 406.92 1430.2 405.55C1426.46 404.19 1423.73 402.66 1419.98 400.44C1416.23 398.22 1411.8 394.65 1407.71 392.26C1403.62 389.87 1399.53 387.66 1395.44 386.12C1391.35 384.59 1385.21 383.57 1383.17 383.06Z" fill="#9a3cae" opacity="0.68" filter="url(#mot2)"/>
<path d="M1460 375.9C1461.53 375.22 1466.65 371.47 1469.2 371.81C1471.76 372.15 1474.14 375.56 1475.34 377.94C1476.53 380.33 1477.89 383.74 1476.36 386.12C1474.83 388.51 1468.86 390.56 1466.13 392.26C1463.41 393.96 1461.02 395.67 1460 396.35Z" fill="#a659b8" opacity="0.6" filter="url(#mot2)"/>
<path d="M1330.2 356.98C1331.87 356.9 1337.19 355.71 1340.22 356.47C1343.26 357.24 1345.85 360.05 1348.4 361.58C1350.96 363.12 1353.52 366.02 1355.56 365.67C1357.61 365.33 1358.46 360.22 1360.67 359.54C1362.89 358.86 1366.47 360.73 1368.85 361.58C1371.24 362.44 1372.94 363.46 1374.99 364.65C1377.03 365.85 1379.08 367.38 1381.12 368.74C1383.17 370.11 1385.21 371.81 1387.26 372.83C1389.3 373.85 1391.01 374.71 1393.39 374.88C1395.78 375.05 1399.36 373.17 1401.57 373.85C1403.79 374.54 1404.64 377.43 1406.69 378.97C1408.73 380.5 1411.63 382.89 1413.84 383.06C1416.06 383.23 1417.76 379.14 1419.98 379.99C1422.19 380.84 1424.41 386.12 1427.14 388.17C1429.86 390.21 1433.78 391.92 1436.34 392.26C1438.9 392.6 1440.09 389.53 1442.47 390.21C1444.86 390.9 1448.1 394.99 1450.65 396.35C1453.21 397.71 1456.41 396.69 1457.81 398.39C1459.21 400.1 1458.19 406.06 1459.04 406.57C1459.89 407.09 1461.74 403.85 1462.92 401.46C1464.11 399.08 1464.58 394.48 1466.13 392.26C1467.69 390.04 1469.88 389.19 1472.27 388.17C1474.66 387.15 1477.72 386.12 1480.45 386.12C1483.18 386.12 1486.07 388.51 1488.63 388.17C1491.19 387.83 1492.89 385.95 1495.79 384.08C1498.68 382.21 1502.6 378.97 1506.01 376.92C1509.42 374.88 1513.34 372.32 1516.24 371.81C1519.13 371.3 1520.5 374.54 1523.39 373.85C1526.29 373.17 1529.7 368.91 1533.62 367.72C1537.54 366.53 1542.99 366.36 1546.91 366.7C1550.83 367.04 1554.58 369.42 1557.14 369.76C1559.69 370.11 1560.55 367.72 1562.25 368.74C1563.95 369.76 1565.66 375.05 1567.36 375.9C1569.07 376.75 1570.77 375.56 1572.47 373.85C1574.18 372.15 1575.03 368.23 1577.59 365.67C1580.14 363.12 1584.94 360.22 1587.81 358.52C1590.68 356.81 1593.64 355.96 1594.8 355.45" fill="none" stroke="#c452c0" stroke-width="1.3" opacity="0.85"/>
<path d="M1379.08 362.1C1380.1 361.93 1383.17 360.65 1385.21 361.07C1387.26 361.5 1390.5 363.72 1391.35 364.65C1392.2 365.59 1391.69 366.7 1390.33 366.7C1388.96 366.7 1384.36 364.99 1383.17 364.65Z" fill="#c79fd4" opacity="0.35"/>
<path d="M1379.08 362.1C1380.1 361.93 1383.17 360.65 1385.21 361.07C1387.26 361.5 1390.5 363.72 1391.35 364.65C1392.2 365.59 1391.69 366.7 1390.33 366.7C1388.96 366.7 1384.36 364.99 1383.17 364.65Z" fill="#b083c8" opacity="0.9" filter="url(#mot)"/>
<path d="M1405.66 365.67C1406.52 364.99 1408.73 362.27 1410.78 361.58C1412.82 360.9 1416.06 360.39 1417.93 361.58C1419.81 362.78 1421.51 366.36 1422.02 368.74C1422.54 371.13 1422.02 374.03 1421 375.9C1419.98 377.77 1417.76 379.99 1415.89 379.99C1414.01 379.99 1411.46 377.43 1409.75 375.9C1408.05 374.37 1406.35 371.64 1405.66 370.79Z" fill="#c3a6d6" opacity="0.35"/>
<path d="M1405.66 365.67C1406.52 364.99 1408.73 362.27 1410.78 361.58C1412.82 360.9 1416.06 360.39 1417.93 361.58C1419.81 362.78 1421.51 366.36 1422.02 368.74C1422.54 371.13 1422.02 374.03 1421 375.9C1419.98 377.77 1417.76 379.99 1415.89 379.99C1414.01 379.99 1411.46 377.43 1409.75 375.9C1408.05 374.37 1406.35 371.64 1405.66 370.79Z" fill="#b083c8" opacity="0.9" filter="url(#mot)"/>
<path d="M1422.02 381.01C1423.39 380.67 1427.14 378.63 1430.2 378.97C1433.27 379.31 1437.7 381.18 1440.43 383.06C1443.16 384.93 1446.22 388.68 1446.56 390.21C1446.91 391.75 1444.86 392.26 1442.47 392.26C1440.09 392.26 1435.32 391.24 1432.25 390.21C1429.18 389.19 1425.43 386.81 1424.07 386.12Z" fill="#bf98d0" opacity="0.35"/>
<path d="M1422.02 381.01C1423.39 380.67 1427.14 378.63 1430.2 378.97C1433.27 379.31 1437.7 381.18 1440.43 383.06C1443.16 384.93 1446.22 388.68 1446.56 390.21C1446.91 391.75 1444.86 392.26 1442.47 392.26C1440.09 392.26 1435.32 391.24 1432.25 390.21C1429.18 389.19 1425.43 386.81 1424.07 386.12Z" fill="#b083c8" opacity="0.9" filter="url(#mot)"/>
<path d="M1447.59 373.85C1448.44 372.83 1450.14 369.08 1452.7 367.72C1455.26 366.36 1460.88 365.33 1462.92 365.67C1464.97 366.02 1464.63 366.7 1464.97 369.76C1465.31 372.83 1466.16 381.01 1464.97 384.08C1463.78 387.15 1460.03 388.34 1457.81 388.17C1455.6 388 1452.7 383.91 1451.68 383.06Z" fill="#c29ad2" opacity="0.35"/>
<path d="M1447.59 373.85C1448.44 372.83 1450.14 369.08 1452.7 367.72C1455.26 366.36 1460.88 365.33 1462.92 365.67C1464.97 366.02 1464.63 366.7 1464.97 369.76C1465.31 372.83 1466.16 381.01 1464.97 384.08C1463.78 387.15 1460.03 388.34 1457.81 388.17C1455.6 388 1452.7 383.91 1451.68 383.06Z" fill="#b083c8" opacity="0.9" filter="url(#mot)"/>
<path d="M1460 365.67C1461.02 364.65 1464.43 359.88 1466.13 359.54C1467.84 359.2 1468.69 362.1 1470.22 363.63C1471.76 365.16 1475 367.04 1475.34 368.74C1475.68 370.45 1474.14 373.17 1472.27 373.85C1470.4 374.54 1466.13 372.83 1464.09 372.83C1462.04 372.83 1460.68 373.68 1460 373.85Z" fill="#c9a2d6" opacity="0.35"/>
<path d="M1460 365.67C1461.02 364.65 1464.43 359.88 1466.13 359.54C1467.84 359.2 1468.69 362.1 1470.22 363.63C1471.76 365.16 1475 367.04 1475.34 368.74C1475.68 370.45 1474.14 373.17 1472.27 373.85C1470.4 374.54 1466.13 372.83 1464.09 372.83C1462.04 372.83 1460.68 373.68 1460 373.85Z" fill="#b083c8" opacity="0.9" filter="url(#mot)"/>
<path d="M1515.21 352.38C1516.24 351.02 1520.07 345.4 1521.35 344.2C1522.63 343.01 1523.57 343.61 1522.88 345.22C1522.2 346.84 1518.2 352.47 1517.26 353.92Z" fill="#cfa0d8" opacity="0.35"/>
<path d="M1515.21 352.38C1516.24 351.02 1520.07 345.4 1521.35 344.2C1522.63 343.01 1523.57 343.61 1522.88 345.22C1522.2 346.84 1518.2 352.47 1517.26 353.92Z" fill="#b083c8" opacity="0.9" filter="url(#mot)"/>
<path d="M1573.5 342.16C1574.01 341.99 1574.52 339.6 1576.56 341.13C1578.61 342.67 1584.74 349.4 1585.77 351.36C1586.79 353.32 1583.21 352.64 1582.7 352.89Z" fill="#d08fd0" opacity="0.35"/>
<path d="M1573.5 342.16C1574.01 341.99 1574.52 339.6 1576.56 341.13C1578.61 342.67 1584.74 349.4 1585.77 351.36C1586.79 353.32 1583.21 352.64 1582.7 352.89Z" fill="#b083c8" opacity="0.9" filter="url(#mot)"/>
<path d="M1585.77 346.25C1586.79 345.4 1590.54 341.82 1591.9 341.13C1593.27 340.45 1593.61 341.31 1593.95 342.16C1594.29 343.01 1594.97 345.05 1593.95 346.25C1592.92 347.44 1588.83 348.8 1587.81 349.31Z" fill="#dcb0e0" opacity="0.35"/>
<path d="M1585.77 346.25C1586.79 345.4 1590.54 341.82 1591.9 341.13C1593.27 340.45 1593.61 341.31 1593.95 342.16C1594.29 343.01 1594.97 345.05 1593.95 346.25C1592.92 347.44 1588.83 348.8 1587.81 349.31Z" fill="#b083c8" opacity="0.9" filter="url(#mot)"/>
<path d="M1525.44 365.67C1525.95 364.65 1527.66 360.39 1528.51 359.54C1529.36 358.69 1530.55 359.37 1530.55 360.56C1530.55 361.76 1528.85 365.67 1528.51 366.7Z" fill="#d6a4dc" opacity="0.35"/>
<path d="M1525.44 365.67C1525.95 364.65 1527.66 360.39 1528.51 359.54C1529.36 358.69 1530.55 359.37 1530.55 360.56C1530.55 361.76 1528.85 365.67 1528.51 366.7Z" fill="#b083c8" opacity="0.9" filter="url(#mot)"/>
<path d="M1558.16 368.74C1558.67 368.06 1560.37 365.16 1561.23 364.65C1562.08 364.14 1563.1 364.82 1563.27 365.67C1563.44 366.53 1562.42 369.08 1562.25 369.76Z" fill="#d6a4dc" opacity="0.35"/>
<path d="M1558.16 368.74C1558.67 368.06 1560.37 365.16 1561.23 364.65C1562.08 364.14 1563.1 364.82 1563.27 365.67C1563.44 366.53 1562.42 369.08 1562.25 369.76Z" fill="#b083c8" opacity="0.9" filter="url(#mot)"/>
<ellipse cx="1357.61" cy="364.65" rx="1.43" ry="3.07" fill="#fbf3fb" stroke="#d4b4de" stroke-width="0.5"/>
<ellipse cx="1344.31" cy="359.54" rx="1.23" ry="1.64" fill="#fbf3fb" stroke="#d4b4de" stroke-width="0.5"/>
<ellipse cx="1376.52" cy="371.81" rx="1.23" ry="2.86" fill="#fbf3fb" stroke="#d4b4de" stroke-width="0.5"/>
<ellipse cx="1399.02" cy="382.55" rx="2.56" ry="4.6" fill="#fbf3fb" stroke="#d4b4de" stroke-width="0.5"/>
<ellipse cx="1438.9" cy="401.97" rx="1.84" ry="4.6" fill="#fbf3fb" stroke="#d4b4de" stroke-width="0.5"/>
<ellipse cx="1392.37" cy="381.01" rx="0.82" ry="1.43" fill="#fbf3fb" stroke="#d4b4de" stroke-width="0.5"/>
<ellipse cx="1447.59" cy="407.6" rx="1.02" ry="1.23" fill="#fbf3fb" stroke="#d4b4de" stroke-width="0.5"/>
<ellipse cx="1451.68" cy="410.66" rx="0.82" ry="1.02" fill="#fbf3fb" stroke="#d4b4de" stroke-width="0.5"/>
<ellipse cx="1433.27" cy="399.42" rx="0.82" ry="1.02" fill="#fbf3fb" stroke="#d4b4de" stroke-width="0.5"/>
<ellipse cx="1430.72" cy="392.26" rx="1.02" ry="1.23" fill="#fbf3fb" stroke="#d4b4de" stroke-width="0.5"/>
<ellipse cx="1363.74" cy="377.94" rx="0.82" ry="1.02" fill="#fbf3fb" stroke="#d4b4de" stroke-width="0.5"/>
<ellipse cx="1366.3" cy="378.46" rx="0.72" ry="1.02" fill="#fbf3fb" stroke="#d4b4de" stroke-width="0.5"/>
<ellipse cx="1357.1" cy="419.87" rx="3.07" ry="2.86" fill="#fbf3fb" stroke="#d4b4de" stroke-width="0.5"/>
<ellipse cx="1345.34" cy="405.55" rx="1.02" ry="1.43" fill="#fbf3fb" stroke="#d4b4de" stroke-width="0.5"/>
<ellipse cx="1341.76" cy="406.06" rx="0.92" ry="1.23" fill="#fbf3fb" stroke="#d4b4de" stroke-width="0.5"/>
<ellipse cx="1349.43" cy="405.55" rx="0.82" ry="1.23" fill="#fbf3fb" stroke="#d4b4de" stroke-width="0.5"/>
<ellipse cx="1383.17" cy="419.87" rx="1.02" ry="1.43" fill="#fbf3fb" stroke="#d4b4de" stroke-width="0.5"/>
<ellipse cx="1396.46" cy="420.38" rx="1.02" ry="1.23" fill="#fbf3fb" stroke="#d4b4de" stroke-width="0.5"/>
<ellipse cx="1404.64" cy="379.99" rx="0.82" ry="1.23" fill="#fbf3fb" stroke="#d4b4de" stroke-width="0.5"/>
<ellipse cx="1408.73" cy="379.99" rx="0.72" ry="1.23" fill="#fbf3fb" stroke="#d4b4de" stroke-width="0.5"/>
<ellipse cx="1547.93" cy="376.41" rx="1.84" ry="2.25" fill="#fbf3fb" stroke="#d4b4de" stroke-width="0.5"/>
<ellipse cx="1543.84" cy="376.92" rx="0.72" ry="2.04" fill="#fbf3fb" stroke="#d4b4de" stroke-width="0.5"/>
<ellipse cx="1549.98" cy="381.52" rx="1.02" ry="1.02" fill="#fbf3fb" stroke="#d4b4de" stroke-width="0.5"/>
<ellipse cx="1541.8" cy="382.55" rx="0.82" ry="0.82" fill="#fbf3fb" stroke="#d4b4de" stroke-width="0.5"/>
<ellipse cx="1561.23" cy="373.85" rx="1.02" ry="2.04" fill="#fbf3fb" stroke="#d4b4de" stroke-width="0.5"/>
<ellipse cx="1561.74" cy="379.99" rx="0.82" ry="1.23" fill="#fbf3fb" stroke="#d4b4de" stroke-width="0.5"/>
<ellipse cx="1589.86" cy="376.92" rx="1.43" ry="2.86" fill="#fbf3fb" stroke="#d4b4de" stroke-width="0.5"/>
<ellipse cx="1571.96" cy="374.88" rx="0.82" ry="1.43" fill="#fbf3fb" stroke="#d4b4de" stroke-width="0.5"/>
<ellipse cx="1514.7" cy="402.48" rx="0.92" ry="2.04" fill="#fbf3fb" stroke="#d4b4de" stroke-width="0.5"/>
<ellipse cx="1507.03" cy="405.55" rx="0.82" ry="1.02" fill="#fbf3fb" stroke="#d4b4de" stroke-width="0.5"/>
<ellipse cx="1519.3" cy="398.39" rx="0.51" ry="1.43" fill="#fbf3fb" stroke="#d4b4de" stroke-width="0.5"/>
<ellipse cx="1483.52" cy="417.82" rx="3.07" ry="4.29" fill="#fbf3fb" stroke="#d4b4de" stroke-width="0.5"/>
<ellipse cx="1527.48" cy="418.84" rx="2.45" ry="4.29" fill="#fbf3fb" stroke="#d4b4de" stroke-width="0.5"/>
<ellipse cx="1544.87" cy="414.24" rx="1.23" ry="1.43" fill="#fbf3fb" stroke="#d4b4de" stroke-width="0.5"/>
<ellipse cx="1548.96" cy="413.73" rx="0.92" ry="1.23" fill="#fbf3fb" stroke="#d4b4de" stroke-width="0.5"/>
<ellipse cx="1562.25" cy="417.31" rx="1.64" ry="1.84" fill="#fbf3fb" stroke="#d4b4de" stroke-width="0.5"/>
<ellipse cx="1575.54" cy="410.66" rx="0.92" ry="1.23" fill="#fbf3fb" stroke="#d4b4de" stroke-width="0.5"/>
<ellipse cx="1589.86" cy="421.91" rx="2.45" ry="1.84" fill="#fbf3fb" stroke="#d4b4de" stroke-width="0.5"/>
<ellipse cx="1490.67" cy="411.69" rx="0.82" ry="1.02" fill="#fbf3fb" stroke="#d4b4de" stroke-width="0.5"/>
<ellipse cx="1497.83" cy="421.91" rx="1.02" ry="1.43" fill="#fbf3fb" stroke="#d4b4de" stroke-width="0.5"/>
<ellipse cx="1464.09" cy="377.94" rx="1.02" ry="1.23" fill="#fbf3fb" stroke="#d4b4de" stroke-width="0.5"/>
<ellipse cx="1568.38" cy="416.8" rx="0.82" ry="1.23" fill="#fbf3fb" stroke="#d4b4de" stroke-width="0.5"/>
<ellipse cx="1536.18" cy="418.84" rx="0.82" ry="1.43" fill="#fbf3fb" stroke="#d4b4de" stroke-width="0.5"/>
</g></g>
<g clip-path="url(#h3)"><g filter="url(#soft)">
<rect x="1331.2" y="508" width="262.6" height="40" fill="#f2e4f5" filter="url(#tex3)"/>
<path d="M1365.77 543.03C1369.34 541.13 1378.88 534.45 1387.22 531.59C1395.57 528.73 1406.3 526.34 1415.84 525.87C1425.37 525.39 1436.25 527.3 1444.45 528.73C1452.65 530.16 1457.69 533.02 1465.05 534.45C1472.41 535.88 1479.92 537.31 1488.61 537.31C1497.31 537.31 1507.69 534.21 1517.22 534.45C1526.76 534.69 1538.68 536.83 1545.84 538.74C1552.99 540.65 1557.76 544.7 1560.14 545.89L1560.14 548L1365.77 548Z" fill="#e8d3ee" opacity="0.8" filter="url(#bl2)"/>
<path d="M1330.2 514.42C1331.6 511.56 1335.76 503.45 1338.58 497.25C1341.41 491.05 1344.54 483.19 1347.17 477.22C1349.79 471.26 1351.22 464.83 1354.32 461.49C1357.42 458.15 1362.19 459.1 1365.77 457.2C1369.34 455.29 1372.92 450.52 1375.78 450.04C1378.64 449.57 1380.55 454.57 1382.93 454.33C1385.32 454.1 1386.51 450.28 1390.09 448.61C1393.66 446.94 1398.91 445.51 1404.39 444.32C1409.88 443.13 1418.7 442.41 1422.99 441.46C1427.28 440.51 1427.04 439.19 1430.14 438.6C1433.24 438 1438.49 436.93 1441.59 437.88C1444.69 438.84 1445.88 443.37 1448.74 444.32C1451.6 445.27 1455.45 443.37 1458.76 443.61C1462.06 443.84 1465.28 445.75 1468.58 445.75C1471.89 445.75 1474.78 443.37 1478.6 443.61C1482.41 443.84 1487.42 446.82 1491.47 447.18C1495.53 447.54 1499.1 445.15 1502.92 445.75C1506.73 446.35 1510.79 449.45 1514.36 450.76C1517.94 452.07 1521.04 452.78 1524.38 453.62C1527.72 454.45 1530.82 455.77 1534.39 455.77C1537.97 455.77 1542.5 453.38 1545.84 453.62C1549.18 453.86 1552.27 454.93 1554.42 457.2C1556.57 459.46 1556.8 466.49 1558.71 467.21C1560.62 467.93 1563.72 461.49 1565.87 461.49C1568.01 461.49 1568.97 466.97 1571.59 467.21C1574.21 467.45 1577.73 463.87 1581.6 462.92C1585.47 461.96 1592.6 461.73 1594.8 461.49L1594.8 528.73L1593.76 528.73 L1560.14 534.45 L1524.38 533.02 L1488.61 525.87 L1460 520.14 L1465.05 520.14 L1430.14 518.71 L1387.22 520.14 L1351.46 520.14 L1331.43 517.28Z" fill="#efd9f3" filter="url(#tex2)"/>
<path d="M1593.76 528.73 L1560.14 534.45 L1524.38 533.02 L1488.61 525.87 L1460 520.14 L1465.05 520.14 L1430.14 518.71 L1387.22 520.14 L1351.46 520.14 L1331.43 517.28" fill="none" stroke="#eedff1" stroke-width="5" filter="url(#bl2)"/>
<path d="M1354.32 461.49C1356.23 460.77 1362.19 459.1 1365.77 457.2C1369.34 455.29 1372.92 450.52 1375.78 450.04C1378.64 449.57 1380.55 454.57 1382.93 454.33C1385.32 454.1 1386.51 450.28 1390.09 448.61C1393.66 446.94 1398.91 445.51 1404.39 444.32C1409.88 443.13 1418.7 442.41 1422.99 441.46C1427.28 440.51 1427.04 439.19 1430.14 438.6C1433.24 438 1438.49 436.93 1441.59 437.88C1444.69 438.84 1445.88 443.37 1448.74 444.32C1451.6 445.27 1455.45 443.37 1458.76 443.61C1462.06 443.84 1465.28 445.75 1468.58 445.75C1471.89 445.75 1474.78 443.37 1478.6 443.61C1482.41 443.84 1487.42 446.82 1491.47 447.18C1495.53 447.54 1499.1 445.15 1502.92 445.75C1506.73 446.35 1510.79 449.45 1514.36 450.76C1517.94 452.07 1521.04 452.78 1524.38 453.62C1527.72 454.45 1530.82 455.77 1534.39 455.77C1537.97 455.77 1542.5 453.38 1545.84 453.62C1549.18 453.86 1552.27 454.93 1554.42 457.2C1556.57 459.46 1556.8 466.49 1558.71 467.21C1560.62 467.93 1563.72 461.49 1565.87 461.49C1568.01 461.49 1568.97 466.97 1571.59 467.21C1574.21 467.45 1577.73 463.87 1581.6 462.92C1585.47 461.96 1592.6 461.73 1594.8 461.49" fill="none" stroke="#a274c2" stroke-width="1.3"/>
<path d="M1330.2 514.42C1331.6 511.56 1335.76 503.45 1338.58 497.25C1341.41 491.05 1344.54 483.19 1347.17 477.22C1349.79 471.26 1353.13 464.11 1354.32 461.49" fill="none" stroke="#cdb0dc" stroke-width="0.8"/>
<path d="M1370.06 455.77L1354.32 492.96" stroke="#b692d0" stroke-width="2.7" stroke-linecap="round" opacity="0.62" filter="url(#bl0)"/>
<path d="M1385.79 455.77L1370.06 492.96" stroke="#b692d0" stroke-width="2.4" stroke-linecap="round" opacity="0.62" filter="url(#bl0)"/>
<path d="M1415.84 460.06L1398.67 495.82" stroke="#b692d0" stroke-width="3" stroke-linecap="round" opacity="0.62" filter="url(#bl0)"/>
<path d="M1433 440.03L1421.56 468.64" stroke="#b692d0" stroke-width="2.7" stroke-linecap="round" opacity="0.62" filter="url(#bl0)"/>
<path d="M1455.89 461.49L1434.43 494.39" stroke="#b692d0" stroke-width="4.5" stroke-linecap="round" opacity="0.62" filter="url(#bl0)"/>
<path d="M1450.17 467.21L1441.59 484.38" stroke="#b692d0" stroke-width="2.4" stroke-linecap="round" opacity="0.62" filter="url(#bl0)"/>
<path d="M1377.21 467.21L1372.92 480.09" stroke="#b692d0" stroke-width="2.1" stroke-linecap="round" opacity="0.62" filter="url(#bl0)"/>
<path d="M1364.33 474.36L1357.18 487.24" stroke="#b692d0" stroke-width="2.4" stroke-linecap="round" opacity="0.62" filter="url(#bl0)"/>
<path d="M1470.01 445.75L1464.29 461.49" stroke="#b692d0" stroke-width="2.7" stroke-linecap="round" opacity="0.62" filter="url(#bl0)"/>
<path d="M1478.6 457.2L1471.44 471.5" stroke="#b692d0" stroke-width="3" stroke-linecap="round" opacity="0.62" filter="url(#bl0)"/>
<path d="M1488.61 447.18L1482.89 467.21" stroke="#b692d0" stroke-width="2.4" stroke-linecap="round" opacity="0.62" filter="url(#bl0)"/>
<path d="M1517.22 468.64L1504.35 482.95" stroke="#b692d0" stroke-width="3.6" stroke-linecap="round" opacity="0.62" filter="url(#bl0)"/>
<path d="M1521.52 471.5L1514.36 481.52" stroke="#b692d0" stroke-width="2.7" stroke-linecap="round" opacity="0.62" filter="url(#bl0)"/>
<path d="M1490.04 485.81L1485.75 494.39" stroke="#b692d0" stroke-width="2.7" stroke-linecap="round" opacity="0.62" filter="url(#bl0)"/>
<path d="M1517.22 501.55L1505.78 518.71" stroke="#b692d0" stroke-width="5.1" stroke-linecap="round" opacity="0.62" filter="url(#bl0)"/>
<path d="M1540.11 511.56L1535.82 523" stroke="#b692d0" stroke-width="6.3" stroke-linecap="round" opacity="0.62" filter="url(#bl0)"/>
<path d="M1545.84 502.98L1544.41 514.42" stroke="#b692d0" stroke-width="2.7" stroke-linecap="round" opacity="0.62" filter="url(#bl0)"/>
<path d="M1528.67 455.77L1524.38 465.78" stroke="#b692d0" stroke-width="2.1" stroke-linecap="round" opacity="0.62" filter="url(#bl0)"/>
<path d="M1537.25 455.77L1532.96 467.21" stroke="#b692d0" stroke-width="2.1" stroke-linecap="round" opacity="0.62" filter="url(#bl0)"/>
<path d="M1560.14 467.21L1563 488.67" stroke="#b692d0" stroke-width="2.4" stroke-linecap="round" opacity="0.62" filter="url(#bl0)"/>
<path d="M1563 488.67L1554.42 508.7" stroke="#b692d0" stroke-width="1.8" stroke-linecap="round" opacity="0.62" filter="url(#bl0)"/>
<path d="M1587.32 474.36L1589.47 488.67" stroke="#b692d0" stroke-width="3" stroke-linecap="round" opacity="0.62" filter="url(#bl0)"/>
<path d="M1589.47 488.67L1584.46 505.84" stroke="#b692d0" stroke-width="3" stroke-linecap="round" opacity="0.62" filter="url(#bl0)"/>
<ellipse cx="1394.38" cy="512.27" rx="4.29" ry="4.29" fill="#8e58b4" opacity="0.9"/>
<ellipse cx="1415.41" cy="510.41" rx="2.43" ry="2.86" fill="#8e58b4" opacity="0.9"/>
<ellipse cx="1394.66" cy="496.54" rx="1.43" ry="1.43" fill="#8e58b4" opacity="0.9"/>
<ellipse cx="1395.09" cy="502.69" rx="1.43" ry="1.43" fill="#8e58b4" opacity="0.9"/>
<ellipse cx="1387.94" cy="515.14" rx="1.29" ry="1.14" fill="#8e58b4" opacity="0.9"/>
<ellipse cx="1355.04" cy="462.49" rx="1.29" ry="1.14" fill="#8e58b4" opacity="0.9"/>
<ellipse cx="1335.72" cy="516.57" rx="2" ry="1.14" fill="#8e58b4" opacity="0.9"/>
<ellipse cx="1332.86" cy="515.14" rx="1.14" ry="1.14" fill="#8e58b4" opacity="0.9"/>
<ellipse cx="1372.92" cy="518.43" rx="0.86" ry="0.72" fill="#8e58b4" opacity="0.9"/>
<ellipse cx="1377.21" cy="518.43" rx="0.72" ry="0.72" fill="#8e58b4" opacity="0.9"/>
<ellipse cx="1381.5" cy="518.14" rx="0.72" ry="0.72" fill="#8e58b4" opacity="0.9"/>
<ellipse cx="1350.03" cy="520.43" rx="1.43" ry="0.72" fill="#8e58b4" opacity="0.9"/>
<ellipse cx="1370.77" cy="491.53" rx="1" ry="1.43" fill="#8e58b4" opacity="0.9"/>
<ellipse cx="1400.1" cy="492.96" rx="1.14" ry="2.29" fill="#8e58b4" opacity="0.9"/>
<ellipse cx="1471.44" cy="520.86" rx="5.44" ry="4.01" fill="#8e58b4" opacity="0.9"/>
<ellipse cx="1477.17" cy="499.69" rx="1.72" ry="1.86" fill="#8e58b4" opacity="0.9"/>
<ellipse cx="1481.17" cy="500.11" rx="1.29" ry="1.43" fill="#8e58b4" opacity="0.9"/>
<ellipse cx="1524.38" cy="529.87" rx="2.86" ry="2.43" fill="#8e58b4" opacity="0.9"/>
<ellipse cx="1529.38" cy="520.14" rx="1.29" ry="1.86" fill="#8e58b4" opacity="0.9"/>
<ellipse cx="1577.31" cy="505.55" rx="1" ry="1.43" fill="#8e58b4" opacity="0.9"/>
<ellipse cx="1506.49" cy="517.28" rx="1.72" ry="2" fill="#8e58b4" opacity="0.9"/>
</g></g>
<path d="M34 295.25V388.5H175.53" stroke="#000" stroke-width="0.9" fill="none"/>
<path d="M31 388.5H34" stroke="#000" stroke-width="0.9"/>
<text x="29.5" y="391.21" font-size="7.52" font-weight="bold" text-anchor="end" textLength="3.67" lengthAdjust="spacingAndGlyphs" font-family="Liberation Sans, sans-serif">0</text>
<path d="M31 365.3H34" stroke="#000" stroke-width="0.9"/>
<text x="29.5" y="368.01" font-size="7.52" font-weight="bold" text-anchor="end" textLength="3.67" lengthAdjust="spacingAndGlyphs" font-family="Liberation Sans, sans-serif">1</text>
<path d="M31 342.1H34" stroke="#000" stroke-width="0.9"/>
<text x="29.5" y="344.81" font-size="7.52" font-weight="bold" text-anchor="end" textLength="3.67" lengthAdjust="spacingAndGlyphs" font-family="Liberation Sans, sans-serif">2</text>
<path d="M31 318.9H34" stroke="#000" stroke-width="0.9"/>
<text x="29.5" y="321.61" font-size="7.52" font-weight="bold" text-anchor="end" textLength="3.67" lengthAdjust="spacingAndGlyphs" font-family="Liberation Sans, sans-serif">3</text>
<path d="M31 295.7H34" stroke="#000" stroke-width="0.9"/>
<text x="29.5" y="298.41" font-size="7.52" font-weight="bold" text-anchor="end" textLength="3.67" lengthAdjust="spacingAndGlyphs" font-family="Liberation Sans, sans-serif">4</text>
<path d="M34 388.5V392" stroke="#000" stroke-width="0.9"/>
<text x="34" y="399.81" font-size="7.52" font-weight="bold" text-anchor="middle" textLength="3.67" lengthAdjust="spacingAndGlyphs" font-family="Liberation Sans, sans-serif">0</text>
<path d="M49.67 388.5V392" stroke="#000" stroke-width="0.9"/>
<text x="49.67" y="399.81" font-size="7.52" font-weight="bold" text-anchor="middle" textLength="3.67" lengthAdjust="spacingAndGlyphs" font-family="Liberation Sans, sans-serif">1</text>
<path d="M65.34 388.5V392" stroke="#000" stroke-width="0.9"/>
<text x="65.34" y="399.81" font-size="7.52" font-weight="bold" text-anchor="middle" textLength="3.67" lengthAdjust="spacingAndGlyphs" font-family="Liberation Sans, sans-serif">2</text>
<path d="M81.01 388.5V392" stroke="#000" stroke-width="0.9"/>
<text x="81.01" y="399.81" font-size="7.52" font-weight="bold" text-anchor="middle" textLength="3.67" lengthAdjust="spacingAndGlyphs" font-family="Liberation Sans, sans-serif">3</text>
<path d="M96.68 388.5V392" stroke="#000" stroke-width="0.9"/>
<text x="96.68" y="399.81" font-size="7.52" font-weight="bold" text-anchor="middle" textLength="3.67" lengthAdjust="spacingAndGlyphs" font-family="Liberation Sans, sans-serif">4</text>
<path d="M112.35 388.5V392" stroke="#000" stroke-width="0.9"/>
<text x="112.35" y="399.81" font-size="7.52" font-weight="bold" text-anchor="middle" textLength="3.67" lengthAdjust="spacingAndGlyphs" font-family="Liberation Sans, sans-serif">5</text>
<path d="M128.02 388.5V392" stroke="#000" stroke-width="0.9"/>
<text x="128.02" y="399.81" font-size="7.52" font-weight="bold" text-anchor="middle" textLength="3.67" lengthAdjust="spacingAndGlyphs" font-family="Liberation Sans, sans-serif">6</text>
<path d="M143.69 388.5V392" stroke="#000" stroke-width="0.9"/>
<text x="143.69" y="399.81" font-size="7.52" font-weight="bold" text-anchor="middle" textLength="3.67" lengthAdjust="spacingAndGlyphs" font-family="Liberation Sans, sans-serif">7</text>
<path d="M159.36 388.5V392" stroke="#000" stroke-width="0.9"/>
<text x="159.36" y="399.81" font-size="7.52" font-weight="bold" text-anchor="middle" textLength="3.67" lengthAdjust="spacingAndGlyphs" font-family="Liberation Sans, sans-serif">8</text>
<path d="M175.03 388.5V392" stroke="#000" stroke-width="0.9"/>
<text x="175.03" y="399.81" font-size="7.52" font-weight="bold" text-anchor="middle" textLength="3.67" lengthAdjust="spacingAndGlyphs" font-family="Liberation Sans, sans-serif">9</text>
<polyline points="34,388.5 49.67,388.5 65.34,359.5 81.01,365.3 96.68,365.3 112.35,353.7 128.02,353.7 143.69,359.5 159.36,371.1 175.03,376.9" fill="none" stroke="#0000cc" stroke-width="0.9"/>
<path d="M65.34 353.7V365.3M62.84 353.7H67.84M62.84 365.3H67.84" stroke="#0000cc" stroke-width="0.9" fill="none"/>
<path d="M112.35 346.74V360.66M109.85 346.74H114.85M109.85 360.66H114.85" stroke="#0000cc" stroke-width="0.9" fill="none"/>
<path d="M128.02 346.74V360.66M125.52 346.74H130.52M125.52 360.66H130.52" stroke="#0000cc" stroke-width="0.9" fill="none"/>
<path d="M143.69 353.7V365.3M141.19 353.7H146.19M141.19 365.3H146.19" stroke="#0000cc" stroke-width="0.9" fill="none"/>
<path d="M159.36 365.3V376.9M156.86 365.3H161.86M156.86 376.9H161.86" stroke="#0000cc" stroke-width="0.9" fill="none"/>
<path d="M175.03 369.94V383.86M172.53 369.94H177.53M172.53 383.86H177.53" stroke="#0000cc" stroke-width="0.9" fill="none"/>
<path d="M31.5 390.73L36.5 390.73L34 385.98Z" fill="#0000cc"/>
<path d="M47.17 390.73L52.17 390.73L49.67 385.98Z" fill="#0000cc"/>
<path d="M62.84 361.73L67.84 361.73L65.34 356.98Z" fill="#0000cc"/>
<path d="M78.51 367.53L83.51 367.53L81.01 362.78Z" fill="#0000cc"/>
<path d="M94.18 367.53L99.18 367.53L96.68 362.78Z" fill="#0000cc"/>
<path d="M109.85 355.93L114.85 355.93L112.35 351.18Z" fill="#0000cc"/>
<path d="M125.52 355.93L130.52 355.93L128.02 351.18Z" fill="#0000cc"/>
<path d="M141.19 361.73L146.19 361.73L143.69 356.98Z" fill="#0000cc"/>
<path d="M156.86 373.33L161.86 373.33L159.36 368.58Z" fill="#0000cc"/>
<path d="M172.53 379.13L177.53 379.13L175.03 374.38Z" fill="#0000cc"/>
<polyline points="34,388.5 49.67,388.5 65.34,347.9 81.01,347.9 96.68,342.1 112.35,330.5 128.02,330.5 143.69,353.7 159.36,365.3 175.03,365.3" fill="none" stroke="#ff0000" stroke-width="0.9"/>
<path d="M65.34 342.1V353.7M62.84 342.1H67.84M62.84 353.7H67.84" stroke="#ff0000" stroke-width="0.9" fill="none"/>
<path d="M81.01 342.1V353.7M78.51 342.1H83.51M78.51 353.7H83.51" stroke="#ff0000" stroke-width="0.9" fill="none"/>
<path d="M112.35 323.54V337.46M109.85 323.54H114.85M109.85 337.46H114.85" stroke="#ff0000" stroke-width="0.9" fill="none"/>
<path d="M128.02 323.54V337.46M125.52 323.54H130.52M125.52 337.46H130.52" stroke="#ff0000" stroke-width="0.9" fill="none"/>
<path d="M143.69 346.74V360.66M141.19 346.74H146.19M141.19 360.66H146.19" stroke="#ff0000" stroke-width="0.9" fill="none"/>
<rect x="31.5" y="386" width="5" height="5" fill="#ff0000"/>
<rect x="47.17" y="386" width="5" height="5" fill="#ff0000"/>
<rect x="62.84" y="345.4" width="5" height="5" fill="#ff0000"/>
<rect x="78.51" y="345.4" width="5" height="5" fill="#ff0000"/>
<rect x="94.18" y="339.6" width="5" height="5" fill="#ff0000"/>
<rect x="109.85" y="328" width="5" height="5" fill="#ff0000"/>
<rect x="125.52" y="328" width="5" height="5" fill="#ff0000"/>
<rect x="141.19" y="351.2" width="5" height="5" fill="#ff0000"/>
<rect x="156.86" y="362.8" width="5" height="5" fill="#ff0000"/>
<rect x="172.53" y="362.8" width="5" height="5" fill="#ff0000"/>
<polyline points="34,388.5 49.67,388.5 65.34,388.5 81.01,388.5 96.68,388.5 112.35,388.5 128.02,388.5 143.69,388.5 159.36,388.5 175.03,388.5" fill="none" stroke="#000" stroke-width="1.2"/>
<circle cx="34" cy="388.5" r="2.12" fill="#000"/>
<circle cx="49.67" cy="388.5" r="2.12" fill="#000"/>
<circle cx="65.34" cy="388.5" r="2.12" fill="#000"/>
<circle cx="81.01" cy="388.5" r="2.12" fill="#000"/>
<circle cx="96.68" cy="388.5" r="2.12" fill="#000"/>
<circle cx="112.35" cy="388.5" r="2.12" fill="#000"/>
<circle cx="128.02" cy="388.5" r="2.12" fill="#000"/>
<circle cx="143.69" cy="388.5" r="2.12" fill="#000"/>
<circle cx="159.36" cy="388.5" r="2.12" fill="#000"/>
<circle cx="175.03" cy="388.5" r="2.12" fill="#000"/>
<text transform="translate(20.3 341.3) rotate(-90)" font-size="6.3" font-weight="bold" text-anchor="middle" font-family="Liberation Serif, serif">PASI (Erythema)</text>
<text x="104.52" y="411.2" font-size="8.2" font-weight="bold" text-anchor="middle" font-family="Liberation Serif, serif">Days</text>
<path d="M203.6 279.07V383.9H362.5" stroke="#000" stroke-width="1.1" fill="none"/>
<path d="M200.1 383.9H203.6" stroke="#000" stroke-width="1.1"/>
<text x="198.6" y="387.1" font-size="8.89" font-weight="bold" text-anchor="end" textLength="4.34" lengthAdjust="spacingAndGlyphs" font-family="Liberation Sans, sans-serif">0</text>
<path d="M200.1 357.83H203.6" stroke="#000" stroke-width="1.1"/>
<text x="198.6" y="361.03" font-size="8.89" font-weight="bold" text-anchor="end" textLength="4.34" lengthAdjust="spacingAndGlyphs" font-family="Liberation Sans, sans-serif">1</text>
<path d="M200.1 331.76H203.6" stroke="#000" stroke-width="1.1"/>
<text x="198.6" y="334.96" font-size="8.89" font-weight="bold" text-anchor="end" textLength="4.34" lengthAdjust="spacingAndGlyphs" font-family="Liberation Sans, sans-serif">2</text>
<path d="M200.1 305.69H203.6" stroke="#000" stroke-width="1.1"/>
<text x="198.6" y="308.89" font-size="8.89" font-weight="bold" text-anchor="end" textLength="4.34" lengthAdjust="spacingAndGlyphs" font-family="Liberation Sans, sans-serif">3</text>
<path d="M200.1 279.62H203.6" stroke="#000" stroke-width="1.1"/>
<text x="198.6" y="282.82" font-size="8.89" font-weight="bold" text-anchor="end" textLength="4.34" lengthAdjust="spacingAndGlyphs" font-family="Liberation Sans, sans-serif">4</text>
<path d="M203.6 383.9V387.9" stroke="#000" stroke-width="1.1"/>
<text x="203.6" y="397.1" font-size="8.89" font-weight="bold" text-anchor="middle" textLength="4.34" lengthAdjust="spacingAndGlyphs" font-family="Liberation Sans, sans-serif">0</text>
<path d="M221.2 383.9V387.9" stroke="#000" stroke-width="1.1"/>
<text x="221.2" y="397.1" font-size="8.89" font-weight="bold" text-anchor="middle" textLength="4.34" lengthAdjust="spacingAndGlyphs" font-family="Liberation Sans, sans-serif">1</text>
<path d="M238.8 383.9V387.9" stroke="#000" stroke-width="1.1"/>
<text x="238.8" y="397.1" font-size="8.89" font-weight="bold" text-anchor="middle" textLength="4.34" lengthAdjust="spacingAndGlyphs" font-family="Liberation Sans, sans-serif">2</text>
<path d="M256.4 383.9V387.9" stroke="#000" stroke-width="1.1"/>
<text x="256.4" y="397.1" font-size="8.89" font-weight="bold" text-anchor="middle" textLength="4.34" lengthAdjust="spacingAndGlyphs" font-family="Liberation Sans, sans-serif">3</text>
<path d="M274 383.9V387.9" stroke="#000" stroke-width="1.1"/>
<text x="274" y="397.1" font-size="8.89" font-weight="bold" text-anchor="middle" textLength="4.34" lengthAdjust="spacingAndGlyphs" font-family="Liberation Sans, sans-serif">4</text>
<path d="M291.6 383.9V387.9" stroke="#000" stroke-width="1.1"/>
<text x="291.6" y="397.1" font-size="8.89" font-weight="bold" text-anchor="middle" textLength="4.34" lengthAdjust="spacingAndGlyphs" font-family="Liberation Sans, sans-serif">5</text>
<path d="M309.2 383.9V387.9" stroke="#000" stroke-width="1.1"/>
<text x="309.2" y="397.1" font-size="8.89" font-weight="bold" text-anchor="middle" textLength="4.34" lengthAdjust="spacingAndGlyphs" font-family="Liberation Sans, sans-serif">6</text>
<path d="M326.8 383.9V387.9" stroke="#000" stroke-width="1.1"/>
<text x="326.8" y="397.1" font-size="8.89" font-weight="bold" text-anchor="middle" textLength="4.34" lengthAdjust="spacingAndGlyphs" font-family="Liberation Sans, sans-serif">7</text>
<path d="M344.4 383.9V387.9" stroke="#000" stroke-width="1.1"/>
<text x="344.4" y="397.1" font-size="8.89" font-weight="bold" text-anchor="middle" textLength="4.34" lengthAdjust="spacingAndGlyphs" font-family="Liberation Sans, sans-serif">8</text>
<path d="M362 383.9V387.9" stroke="#000" stroke-width="1.1"/>
<text x="362" y="397.1" font-size="8.89" font-weight="bold" text-anchor="middle" textLength="4.34" lengthAdjust="spacingAndGlyphs" font-family="Liberation Sans, sans-serif">9</text>
<polyline points="203.6,383.9 221.2,383.9 238.8,364.35 256.4,357.83 274,351.31 291.6,351.31 309.2,351.31 326.8,357.83 344.4,364.35 362,370.86" fill="none" stroke="#0000cc" stroke-width="0.9"/>
<path d="M238.8 357.83V370.86M236.3 357.83H241.3M236.3 370.86H241.3" stroke="#0000cc" stroke-width="0.9" fill="none"/>
<path d="M274 344.79V357.83M271.5 344.79H276.5M271.5 357.83H276.5" stroke="#0000cc" stroke-width="0.9" fill="none"/>
<path d="M291.6 344.79V357.83M289.1 344.79H294.1M289.1 357.83H294.1" stroke="#0000cc" stroke-width="0.9" fill="none"/>
<path d="M309.2 344.79V357.83M306.7 344.79H311.7M306.7 357.83H311.7" stroke="#0000cc" stroke-width="0.9" fill="none"/>
<path d="M326.8 347.4V368.26M324.3 347.4H329.3M324.3 368.26H329.3" stroke="#0000cc" stroke-width="0.9" fill="none"/>
<path d="M344.4 357.83V370.86M341.9 357.83H346.9M341.9 370.86H346.9" stroke="#0000cc" stroke-width="0.9" fill="none"/>
<path d="M362 363.04V378.69M359.5 363.04H364.5M359.5 378.69H364.5" stroke="#0000cc" stroke-width="0.9" fill="none"/>
<path d="M201.1 386.13L206.1 386.13L203.6 381.38Z" fill="#0000cc"/>
<path d="M218.7 386.13L223.7 386.13L221.2 381.38Z" fill="#0000cc"/>
<path d="M236.3 366.58L241.3 366.58L238.8 361.83Z" fill="#0000cc"/>
<path d="M253.9 360.06L258.9 360.06L256.4 355.31Z" fill="#0000cc"/>
<path d="M271.5 353.55L276.5 353.55L274 348.8Z" fill="#0000cc"/>
<path d="M289.1 353.55L294.1 353.55L291.6 348.8Z" fill="#0000cc"/>
<path d="M306.7 353.55L311.7 353.55L309.2 348.8Z" fill="#0000cc"/>
<path d="M324.3 360.06L329.3 360.06L326.8 355.31Z" fill="#0000cc"/>
<path d="M341.9 366.58L346.9 366.58L344.4 361.83Z" fill="#0000cc"/>
<path d="M359.5 373.1L364.5 373.1L362 368.35Z" fill="#0000cc"/>
<polyline points="203.6,383.9 221.2,383.9 238.8,364.35 256.4,344.79 274,331.76 291.6,331.76 309.2,318.72 326.8,325.24 344.4,344.79 362,357.83" fill="none" stroke="#ff0000" stroke-width="0.9"/>
<path d="M238.8 357.83V370.86M236.3 357.83H241.3M236.3 370.86H241.3" stroke="#ff0000" stroke-width="0.9" fill="none"/>
<path d="M256.4 336.97V352.62M253.9 336.97H258.9M253.9 352.62H258.9" stroke="#ff0000" stroke-width="0.9" fill="none"/>
<path d="M309.2 310.9V326.55M306.7 310.9H311.7M306.7 326.55H311.7" stroke="#ff0000" stroke-width="0.9" fill="none"/>
<path d="M326.8 318.72V331.76M324.3 318.72H329.3M324.3 331.76H329.3" stroke="#ff0000" stroke-width="0.9" fill="none"/>
<path d="M344.4 336.97V352.62M341.9 336.97H346.9M341.9 352.62H346.9" stroke="#ff0000" stroke-width="0.9" fill="none"/>
<rect x="201.1" y="381.4" width="5" height="5" fill="#ff0000"/>
<rect x="218.7" y="381.4" width="5" height="5" fill="#ff0000"/>
<rect x="236.3" y="361.85" width="5" height="5" fill="#ff0000"/>
<rect x="253.9" y="342.29" width="5" height="5" fill="#ff0000"/>
<rect x="271.5" y="329.26" width="5" height="5" fill="#ff0000"/>
<rect x="289.1" y="329.26" width="5" height="5" fill="#ff0000"/>
<rect x="306.7" y="316.22" width="5" height="5" fill="#ff0000"/>
<rect x="324.3" y="322.74" width="5" height="5" fill="#ff0000"/>
<rect x="341.9" y="342.29" width="5" height="5" fill="#ff0000"/>
<rect x="359.5" y="355.33" width="5" height="5" fill="#ff0000"/>
<polyline points="203.6,383.9 221.2,383.9 238.8,383.9 256.4,383.9 274,383.9 291.6,383.9 309.2,383.9 326.8,383.9 344.4,383.9 362,383.9" fill="none" stroke="#000" stroke-width="1.2"/>
<circle cx="203.6" cy="383.9" r="2.12" fill="#000"/>
<circle cx="221.2" cy="383.9" r="2.12" fill="#000"/>
<circle cx="238.8" cy="383.9" r="2.12" fill="#000"/>
<circle cx="256.4" cy="383.9" r="2.12" fill="#000"/>
<circle cx="274" cy="383.9" r="2.12" fill="#000"/>
<circle cx="291.6" cy="383.9" r="2.12" fill="#000"/>
<circle cx="309.2" cy="383.9" r="2.12" fill="#000"/>
<circle cx="326.8" cy="383.9" r="2.12" fill="#000"/>
<circle cx="344.4" cy="383.9" r="2.12" fill="#000"/>
<circle cx="362" cy="383.9" r="2.12" fill="#000"/>
<text transform="translate(188.8 330.7) rotate(-90)" font-size="7.3" font-weight="bold" text-anchor="middle" font-family="Liberation Serif, serif">PASI (Scaling)</text>
<text x="282.8" y="407.8" font-size="6.7" font-weight="bold" text-anchor="middle" textLength="102.3" lengthAdjust="spacingAndGlyphs" font-family="Liberation Sans, sans-serif">Days post induction initiation</text>
<path d="M398.2 290.65V388.3H546.75" stroke="#000" stroke-width="0.9" fill="none"/>
<path d="M395.2 388.3H398.2" stroke="#000" stroke-width="0.9"/>
<text x="393.7" y="391.01" font-size="7.52" font-weight="bold" text-anchor="end" textLength="3.67" lengthAdjust="spacingAndGlyphs" font-family="Liberation Sans, sans-serif">0</text>
<path d="M395.2 364H398.2" stroke="#000" stroke-width="0.9"/>
<text x="393.7" y="366.71" font-size="7.52" font-weight="bold" text-anchor="end" textLength="3.67" lengthAdjust="spacingAndGlyphs" font-family="Liberation Sans, sans-serif">1</text>
<path d="M395.2 339.7H398.2" stroke="#000" stroke-width="0.9"/>
<text x="393.7" y="342.41" font-size="7.52" font-weight="bold" text-anchor="end" textLength="3.67" lengthAdjust="spacingAndGlyphs" font-family="Liberation Sans, sans-serif">2</text>
<path d="M395.2 315.4H398.2" stroke="#000" stroke-width="0.9"/>
<text x="393.7" y="318.11" font-size="7.52" font-weight="bold" text-anchor="end" textLength="3.67" lengthAdjust="spacingAndGlyphs" font-family="Liberation Sans, sans-serif">3</text>
<path d="M395.2 291.1H398.2" stroke="#000" stroke-width="0.9"/>
<text x="393.7" y="293.81" font-size="7.52" font-weight="bold" text-anchor="end" textLength="3.67" lengthAdjust="spacingAndGlyphs" font-family="Liberation Sans, sans-serif">4</text>
<path d="M398.2 388.3V391.8" stroke="#000" stroke-width="0.9"/>
<text x="398.2" y="400.51" font-size="7.52" font-weight="bold" text-anchor="middle" textLength="3.67" lengthAdjust="spacingAndGlyphs" font-family="Liberation Sans, sans-serif">0</text>
<path d="M414.65 388.3V391.8" stroke="#000" stroke-width="0.9"/>
<text x="414.65" y="400.51" font-size="7.52" font-weight="bold" text-anchor="middle" textLength="3.67" lengthAdjust="spacingAndGlyphs" font-family="Liberation Sans, sans-serif">1</text>
<path d="M431.1 388.3V391.8" stroke="#000" stroke-width="0.9"/>
<text x="431.1" y="400.51" font-size="7.52" font-weight="bold" text-anchor="middle" textLength="3.67" lengthAdjust="spacingAndGlyphs" font-family="Liberation Sans, sans-serif">2</text>
<path d="M447.55 388.3V391.8" stroke="#000" stroke-width="0.9"/>
<text x="447.55" y="400.51" font-size="7.52" font-weight="bold" text-anchor="middle" textLength="3.67" lengthAdjust="spacingAndGlyphs" font-family="Liberation Sans, sans-serif">3</text>
<path d="M464 388.3V391.8" stroke="#000" stroke-width="0.9"/>
<text x="464" y="400.51" font-size="7.52" font-weight="bold" text-anchor="middle" textLength="3.67" lengthAdjust="spacingAndGlyphs" font-family="Liberation Sans, sans-serif">4</text>
<path d="M480.45 388.3V391.8" stroke="#000" stroke-width="0.9"/>
<text x="480.45" y="400.51" font-size="7.52" font-weight="bold" text-anchor="middle" textLength="3.67" lengthAdjust="spacingAndGlyphs" font-family="Liberation Sans, sans-serif">5</text>
<path d="M496.9 388.3V391.8" stroke="#000" stroke-width="0.9"/>
<text x="496.9" y="400.51" font-size="7.52" font-weight="bold" text-anchor="middle" textLength="3.67" lengthAdjust="spacingAndGlyphs" font-family="Liberation Sans, sans-serif">6</text>
<path d="M513.35 388.3V391.8" stroke="#000" stroke-width="0.9"/>
<text x="513.35" y="400.51" font-size="7.52" font-weight="bold" text-anchor="middle" textLength="3.67" lengthAdjust="spacingAndGlyphs" font-family="Liberation Sans, sans-serif">7</text>
<path d="M529.8 388.3V391.8" stroke="#000" stroke-width="0.9"/>
<text x="529.8" y="400.51" font-size="7.52" font-weight="bold" text-anchor="middle" textLength="3.67" lengthAdjust="spacingAndGlyphs" font-family="Liberation Sans, sans-serif">8</text>
<path d="M546.25 388.3V391.8" stroke="#000" stroke-width="0.9"/>
<text x="546.25" y="400.51" font-size="7.52" font-weight="bold" text-anchor="middle" textLength="3.67" lengthAdjust="spacingAndGlyphs" font-family="Liberation Sans, sans-serif">9</text>
<polyline points="398.2,388.3 414.65,388.3 431.1,376.15 447.55,370.07 464,351.85 480.45,351.85 496.9,357.93 513.35,357.93 529.8,370.07 546.25,376.15" fill="none" stroke="#0000cc" stroke-width="0.9"/>
<path d="M431.1 368.86V383.44M428.6 368.86H433.6M428.6 383.44H433.6" stroke="#0000cc" stroke-width="0.9" fill="none"/>
<path d="M447.55 364V376.15M445.05 364H450.05M445.05 376.15H450.05" stroke="#0000cc" stroke-width="0.9" fill="none"/>
<path d="M464 344.56V359.14M461.5 344.56H466.5M461.5 359.14H466.5" stroke="#0000cc" stroke-width="0.9" fill="none"/>
<path d="M480.45 344.56V359.14M477.95 344.56H482.95M477.95 359.14H482.95" stroke="#0000cc" stroke-width="0.9" fill="none"/>
<path d="M496.9 351.85V364M494.4 351.85H499.4M494.4 364H499.4" stroke="#0000cc" stroke-width="0.9" fill="none"/>
<path d="M513.35 351.85V364M510.85 351.85H515.85M510.85 364H515.85" stroke="#0000cc" stroke-width="0.9" fill="none"/>
<path d="M529.8 364V376.15M527.3 364H532.3M527.3 376.15H532.3" stroke="#0000cc" stroke-width="0.9" fill="none"/>
<path d="M546.25 368.86V383.44M543.75 368.86H548.75M543.75 383.44H548.75" stroke="#0000cc" stroke-width="0.9" fill="none"/>
<path d="M395.7 390.53L400.7 390.53L398.2 385.78Z" fill="#0000cc"/>
<path d="M412.15 390.53L417.15 390.53L414.65 385.78Z" fill="#0000cc"/>
<path d="M428.6 378.38L433.6 378.38L431.1 373.63Z" fill="#0000cc"/>
<path d="M445.05 372.31L450.05 372.31L447.55 367.56Z" fill="#0000cc"/>
<path d="M461.5 354.08L466.5 354.08L464 349.33Z" fill="#0000cc"/>
<path d="M477.95 354.08L482.95 354.08L480.45 349.33Z" fill="#0000cc"/>
<path d="M494.4 360.16L499.4 360.16L496.9 355.41Z" fill="#0000cc"/>
<path d="M510.85 360.16L515.85 360.16L513.35 355.41Z" fill="#0000cc"/>
<path d="M527.3 372.31L532.3 372.31L529.8 367.56Z" fill="#0000cc"/>
<path d="M543.75 378.38L548.75 378.38L546.25 373.63Z" fill="#0000cc"/>
<polyline points="398.2,388.3 414.65,388.3 431.1,376.15 447.55,370.07 464,345.78 480.45,321.48 496.9,315.4 513.35,333.62 529.8,345.78 546.25,351.85" fill="none" stroke="#ff0000" stroke-width="0.9"/>
<path d="M431.1 368.86V383.44M428.6 368.86H433.6M428.6 383.44H433.6" stroke="#ff0000" stroke-width="0.9" fill="none"/>
<path d="M447.55 364V376.15M445.05 364H450.05M445.05 376.15H450.05" stroke="#ff0000" stroke-width="0.9" fill="none"/>
<path d="M464 339.7V351.85M461.5 339.7H466.5M461.5 351.85H466.5" stroke="#ff0000" stroke-width="0.9" fill="none"/>
<path d="M480.45 315.4V327.55M477.95 315.4H482.95M477.95 327.55H482.95" stroke="#ff0000" stroke-width="0.9" fill="none"/>
<path d="M513.35 327.55V339.7M510.85 327.55H515.85M510.85 339.7H515.85" stroke="#ff0000" stroke-width="0.9" fill="none"/>
<path d="M529.8 339.7V351.85M527.3 339.7H532.3M527.3 351.85H532.3" stroke="#ff0000" stroke-width="0.9" fill="none"/>
<path d="M546.25 344.56V359.14M543.75 344.56H548.75M543.75 359.14H548.75" stroke="#ff0000" stroke-width="0.9" fill="none"/>
<rect x="395.7" y="385.8" width="5" height="5" fill="#ff0000"/>
<rect x="412.15" y="385.8" width="5" height="5" fill="#ff0000"/>
<rect x="428.6" y="373.65" width="5" height="5" fill="#ff0000"/>
<rect x="445.05" y="367.57" width="5" height="5" fill="#ff0000"/>
<rect x="461.5" y="343.28" width="5" height="5" fill="#ff0000"/>
<rect x="477.95" y="318.98" width="5" height="5" fill="#ff0000"/>
<rect x="494.4" y="312.9" width="5" height="5" fill="#ff0000"/>
<rect x="510.85" y="331.12" width="5" height="5" fill="#ff0000"/>
<rect x="527.3" y="343.28" width="5" height="5" fill="#ff0000"/>
<rect x="543.75" y="349.35" width="5" height="5" fill="#ff0000"/>
<polyline points="398.2,388.3 414.65,388.3 431.1,388.3 447.55,388.3 464,388.3 480.45,388.3 496.9,388.3 513.35,388.3 529.8,388.3 546.25,388.3" fill="none" stroke="#000" stroke-width="1.2"/>
<circle cx="398.2" cy="388.3" r="2.12" fill="#000"/>
<circle cx="414.65" cy="388.3" r="2.12" fill="#000"/>
<circle cx="431.1" cy="388.3" r="2.12" fill="#000"/>
<circle cx="447.55" cy="388.3" r="2.12" fill="#000"/>
<circle cx="464" cy="388.3" r="2.12" fill="#000"/>
<circle cx="480.45" cy="388.3" r="2.12" fill="#000"/>
<circle cx="496.9" cy="388.3" r="2.12" fill="#000"/>
<circle cx="513.35" cy="388.3" r="2.12" fill="#000"/>
<circle cx="529.8" cy="388.3" r="2.12" fill="#000"/>
<circle cx="546.25" cy="388.3" r="2.12" fill="#000"/>
<text transform="translate(384 339) rotate(-90)" font-size="6.7" font-weight="bold" text-anchor="middle" font-family="Liberation Serif, serif">PASI(Thickening)</text>
<text x="472.23" y="410.4" font-size="6.2" font-weight="bold" text-anchor="middle" textLength="95" lengthAdjust="spacingAndGlyphs" font-family="Liberation Sans, sans-serif">Days post induction initiation</text>
<path d="M160.15 464.46V638.7H425.48" stroke="#000" stroke-width="2.5" fill="none"/>
<path d="M152.45 638.7H160.15" stroke="#000" stroke-width="2.4"/>
<text x="149.75" y="642.8" font-size="12.6" font-weight="bold" text-anchor="end" letter-spacing="-0.5" font-family="Liberation Sans, sans-serif">0</text>
<path d="M152.45 609.86H160.15" stroke="#000" stroke-width="2.4"/>
<text x="149.75" y="613.96" font-size="12.6" font-weight="bold" text-anchor="end" letter-spacing="-0.5" font-family="Liberation Sans, sans-serif">2</text>
<path d="M152.45 581.02H160.15" stroke="#000" stroke-width="2.4"/>
<text x="149.75" y="585.12" font-size="12.6" font-weight="bold" text-anchor="end" letter-spacing="-0.5" font-family="Liberation Sans, sans-serif">4</text>
<path d="M152.45 552.18H160.15" stroke="#000" stroke-width="2.4"/>
<text x="149.75" y="556.28" font-size="12.6" font-weight="bold" text-anchor="end" letter-spacing="-0.5" font-family="Liberation Sans, sans-serif">6</text>
<path d="M152.45 523.34H160.15" stroke="#000" stroke-width="2.4"/>
<text x="149.75" y="527.44" font-size="12.6" font-weight="bold" text-anchor="end" letter-spacing="-0.5" font-family="Liberation Sans, sans-serif">8</text>
<path d="M152.45 494.5H160.15" stroke="#000" stroke-width="2.4"/>
<text x="149.75" y="498.6" font-size="12.6" font-weight="bold" text-anchor="end" letter-spacing="-0.5" font-family="Liberation Sans, sans-serif">10</text>
<path d="M152.45 465.66H160.15" stroke="#000" stroke-width="2.4"/>
<text x="149.75" y="469.76" font-size="12.6" font-weight="bold" text-anchor="end" letter-spacing="-0.5" font-family="Liberation Sans, sans-serif">12</text>
<path d="M160.15 638.7V646.9" stroke="#000" stroke-width="2.4"/>
<text x="160.15" y="660.7" font-size="14.2" font-weight="bold" text-anchor="middle" textLength="6.8" lengthAdjust="spacingAndGlyphs" font-family="Liberation Sans, sans-serif">0</text>
<path d="M189.52 638.7V646.9" stroke="#000" stroke-width="2.4"/>
<text x="189.52" y="660.7" font-size="14.2" font-weight="bold" text-anchor="middle" textLength="6.8" lengthAdjust="spacingAndGlyphs" font-family="Liberation Sans, sans-serif">1</text>
<path d="M218.89 638.7V646.9" stroke="#000" stroke-width="2.4"/>
<text x="218.89" y="660.7" font-size="14.2" font-weight="bold" text-anchor="middle" textLength="6.8" lengthAdjust="spacingAndGlyphs" font-family="Liberation Sans, sans-serif">2</text>
<path d="M248.26 638.7V646.9" stroke="#000" stroke-width="2.4"/>
<text x="248.26" y="660.7" font-size="14.2" font-weight="bold" text-anchor="middle" textLength="6.8" lengthAdjust="spacingAndGlyphs" font-family="Liberation Sans, sans-serif">3</text>
<path d="M277.63 638.7V646.9" stroke="#000" stroke-width="2.4"/>
<text x="277.63" y="660.7" font-size="14.2" font-weight="bold" text-anchor="middle" textLength="6.8" lengthAdjust="spacingAndGlyphs" font-family="Liberation Sans, sans-serif">4</text>
<path d="M307 638.7V646.9" stroke="#000" stroke-width="2.4"/>
<text x="307" y="660.7" font-size="14.2" font-weight="bold" text-anchor="middle" textLength="6.8" lengthAdjust="spacingAndGlyphs" font-family="Liberation Sans, sans-serif">5</text>
<path d="M336.37 638.7V646.9" stroke="#000" stroke-width="2.4"/>
<text x="336.37" y="660.7" font-size="14.2" font-weight="bold" text-anchor="middle" textLength="6.8" lengthAdjust="spacingAndGlyphs" font-family="Liberation Sans, sans-serif">6</text>
<path d="M365.74 638.7V646.9" stroke="#000" stroke-width="2.4"/>
<text x="365.74" y="660.7" font-size="14.2" font-weight="bold" text-anchor="middle" textLength="6.8" lengthAdjust="spacingAndGlyphs" font-family="Liberation Sans, sans-serif">7</text>
<path d="M395.11 638.7V646.9" stroke="#000" stroke-width="2.4"/>
<text x="395.11" y="660.7" font-size="14.2" font-weight="bold" text-anchor="middle" textLength="6.8" lengthAdjust="spacingAndGlyphs" font-family="Liberation Sans, sans-serif">8</text>
<path d="M424.48 638.7V646.9" stroke="#000" stroke-width="2.4"/>
<text x="424.48" y="660.7" font-size="14.2" font-weight="bold" text-anchor="middle" textLength="6.8" lengthAdjust="spacingAndGlyphs" font-family="Liberation Sans, sans-serif">9</text>
<polyline points="160.15,638.7 189.52,638.7 218.89,595.44 248.26,581.02 277.63,555.79 307,534.16 336.37,523.34 365.74,552.18 395.11,581.02 424.48,581.02" fill="none" stroke="#ff0000" stroke-width="1.0"/>
<path d="M218.89 585.35V595.44M215.14 585.35H222.64" stroke="#ff0000" stroke-width="1.0" fill="none"/>
<path d="M248.26 573.09V581.02M244.51 573.09H252.01" stroke="#ff0000" stroke-width="1.0" fill="none"/>
<path d="M277.63 552.18V555.79M273.88 552.18H281.38" stroke="#ff0000" stroke-width="1.0" fill="none"/>
<path d="M307 527.67V534.16M303.25 527.67H310.75" stroke="#ff0000" stroke-width="1.0" fill="none"/>
<path d="M336.37 521.18V523.34M332.62 521.18H340.12" stroke="#ff0000" stroke-width="1.0" fill="none"/>
<path d="M365.74 547.13V552.18M361.99 547.13H369.49" stroke="#ff0000" stroke-width="1.0" fill="none"/>
<path d="M395.11 575.97V581.02M391.36 575.97H398.86" stroke="#ff0000" stroke-width="1.0" fill="none"/>
<rect x="156.25" y="634.8" width="7.8" height="7.8" fill="#ff0000"/>
<rect x="185.62" y="634.8" width="7.8" height="7.8" fill="#ff0000"/>
<rect x="214.99" y="591.54" width="7.8" height="7.8" fill="#ff0000"/>
<rect x="244.36" y="577.12" width="7.8" height="7.8" fill="#ff0000"/>
<rect x="273.73" y="551.89" width="7.8" height="7.8" fill="#ff0000"/>
<rect x="303.1" y="530.26" width="7.8" height="7.8" fill="#ff0000"/>
<rect x="332.47" y="519.44" width="7.8" height="7.8" fill="#ff0000"/>
<rect x="361.84" y="548.28" width="7.8" height="7.8" fill="#ff0000"/>
<rect x="391.21" y="577.12" width="7.8" height="7.8" fill="#ff0000"/>
<rect x="420.58" y="577.12" width="7.8" height="7.8" fill="#ff0000"/>
<polyline points="160.15,638.7 189.52,638.7 218.89,602.65 248.26,606.25 277.63,591.84 307,591.84 336.37,584.62 365.74,606.25 395.11,613.47 424.48,627.88" fill="none" stroke="#0000cc" stroke-width="1.0"/>
<path d="M248.26 599.77V606.25M244.51 599.77H252.01" stroke="#0000cc" stroke-width="1.0" fill="none"/>
<path d="M277.63 583.18V591.84M273.88 583.18H281.38" stroke="#0000cc" stroke-width="1.0" fill="none"/>
<path d="M307 588.23V591.84M303.25 588.23H310.75" stroke="#0000cc" stroke-width="1.0" fill="none"/>
<path d="M336.37 577.42V584.62M332.62 577.42H340.12" stroke="#0000cc" stroke-width="1.0" fill="none"/>
<path d="M365.74 597.6V606.25M361.99 597.6H369.49" stroke="#0000cc" stroke-width="1.0" fill="none"/>
<path d="M395.11 606.98V613.47M391.36 606.98H398.86" stroke="#0000cc" stroke-width="1.0" fill="none"/>
<path d="M424.48 624.28V627.88M420.73 624.28H428.23" stroke="#0000cc" stroke-width="1.0" fill="none"/>
<path d="M156.15 642.27L164.15 642.27L160.15 634.67Z" fill="#0000cc"/>
<path d="M185.52 642.27L193.52 642.27L189.52 634.67Z" fill="#0000cc"/>
<path d="M214.89 606.22L222.89 606.22L218.89 598.62Z" fill="#0000cc"/>
<path d="M244.26 609.83L252.26 609.83L248.26 602.23Z" fill="#0000cc"/>
<path d="M273.63 595.41L281.63 595.41L277.63 587.81Z" fill="#0000cc"/>
<path d="M303 595.41L311 595.41L307 587.81Z" fill="#0000cc"/>
<path d="M332.37 588.2L340.37 588.2L336.37 580.6Z" fill="#0000cc"/>
<path d="M361.74 609.83L369.74 609.83L365.74 602.23Z" fill="#0000cc"/>
<path d="M391.11 617.04L399.11 617.04L395.11 609.44Z" fill="#0000cc"/>
<path d="M420.48 631.46L428.48 631.46L424.48 623.86Z" fill="#0000cc"/>
<polyline points="160.15,638.7 189.52,638.7 218.89,638.7 248.26,638.7 277.63,638.7 307,638.7 336.37,638.7 365.74,638.7 395.11,638.7 424.48,638.7" fill="none" stroke="#000" stroke-width="2.6"/>
<circle cx="160.15" cy="638.7" r="3.7" fill="#000"/>
<circle cx="189.52" cy="638.7" r="3.7" fill="#000"/>
<circle cx="218.89" cy="638.7" r="3.7" fill="#000"/>
<circle cx="248.26" cy="638.7" r="3.7" fill="#000"/>
<circle cx="277.63" cy="638.7" r="3.7" fill="#000"/>
<circle cx="307" cy="638.7" r="3.7" fill="#000"/>
<circle cx="336.37" cy="638.7" r="3.7" fill="#000"/>
<circle cx="365.74" cy="638.7" r="3.7" fill="#000"/>
<circle cx="395.11" cy="638.7" r="3.7" fill="#000"/>
<circle cx="424.48" cy="638.7" r="3.7" fill="#000"/>
<path d="M170.9 467.7H190.4" stroke="#000" stroke-width="1.1"/>
<circle cx="180.7" cy="467.7" r="3.8" fill="#000"/>
<text x="200" y="472.1" font-size="14.45" font-family="Liberation Serif, serif">Group A Normal</text>
<path d="M170.9 491.5H190.4" stroke="#ff0000" stroke-width="1.1"/>
<rect x="176.9" y="487.7" width="7.6" height="7.6" fill="#ff0000"/>
<text x="200" y="495.9" font-size="14.45" font-family="Liberation Serif, serif">Group B Model</text>
<path d="M170.9 515.2H190.4" stroke="#0000cc" stroke-width="1.1"/>
<path d="M176.9 518.59L184.5 518.59L180.7 511.37Z" fill="#0000cc"/>
<text x="200" y="519.6" font-size="14.45" font-family="Liberation Serif, serif">Group C Treatment</text>
<text x="277.29999999999995" y="580.8" font-size="13" text-anchor="middle" letter-spacing="0.6" font-family="Liberation Sans, sans-serif">*</text>
<text x="305.59999999999997" y="585.6999999999999" font-size="13" text-anchor="middle" letter-spacing="0.6" font-family="Liberation Sans, sans-serif">**</text>
<text x="333.9" y="575.6999999999999" font-size="13" text-anchor="middle" letter-spacing="0.6" font-family="Liberation Sans, sans-serif">**</text>
<text x="364.59999999999997" y="595.5" font-size="13" text-anchor="middle" letter-spacing="0.6" font-family="Liberation Sans, sans-serif">**</text>
<text x="392.29999999999995" y="604.5999999999999" font-size="13" text-anchor="middle" letter-spacing="0.6" font-family="Liberation Sans, sans-serif">*</text>
<text x="422.0" y="623.5" font-size="13" text-anchor="middle" letter-spacing="0.6" font-family="Liberation Sans, sans-serif">**</text>
<text transform="translate(127.6 551) rotate(-90)" font-size="12.2" font-weight="bold" text-anchor="middle" font-family="Liberation Serif, serif">PASI(Total)</text>
<text x="291.9" y="679.8" font-size="12.1" font-weight="bold" text-anchor="middle" font-family="Liberation Serif, serif">Days post Induction Initiation</text>
<path d="M634 298.9V506.5H944.6" stroke="#000" stroke-width="2" fill="none"/>
<path d="M625 299.9H634" stroke="#000" stroke-width="2"/>
<text x="622.5" y="305.6" font-size="16" font-weight="bold" text-anchor="end" font-family="Liberation Sans, sans-serif">10</text>
<path d="M625 351.55H634" stroke="#000" stroke-width="2"/>
<text x="622.5" y="357.25" font-size="16" font-weight="bold" text-anchor="end" font-family="Liberation Sans, sans-serif">5</text>
<path d="M625 403.2H634" stroke="#000" stroke-width="2"/>
<text x="622.5" y="408.9" font-size="16" font-weight="bold" text-anchor="end" font-family="Liberation Sans, sans-serif">0</text>
<path d="M625 454.85H634" stroke="#000" stroke-width="2"/>
<text x="622.5" y="460.55" font-size="16" font-weight="bold" text-anchor="end" font-family="Liberation Sans, sans-serif">-5</text>
<path d="M625 506.5H634" stroke="#000" stroke-width="2"/>
<text x="622.5" y="512.2" font-size="16" font-weight="bold" text-anchor="end" font-family="Liberation Sans, sans-serif">-10</text>
<path d="M634 506.5V515.5" stroke="#000" stroke-width="2"/>
<text x="633.4" y="531.8" font-size="15.6" font-weight="bold" text-anchor="middle" font-family="Liberation Sans, sans-serif">0</text>
<path d="M668.4 506.5V515.5" stroke="#000" stroke-width="2"/>
<text x="667.8" y="531.8" font-size="15.6" font-weight="bold" text-anchor="middle" font-family="Liberation Sans, sans-serif">1</text>
<path d="M702.8 506.5V515.5" stroke="#000" stroke-width="2"/>
<text x="702.2" y="531.8" font-size="15.6" font-weight="bold" text-anchor="middle" font-family="Liberation Sans, sans-serif">2</text>
<path d="M737.2 506.5V515.5" stroke="#000" stroke-width="2"/>
<text x="736.6" y="531.8" font-size="15.6" font-weight="bold" text-anchor="middle" font-family="Liberation Sans, sans-serif">3</text>
<path d="M771.6 506.5V515.5" stroke="#000" stroke-width="2"/>
<text x="771" y="531.8" font-size="15.6" font-weight="bold" text-anchor="middle" font-family="Liberation Sans, sans-serif">4</text>
<path d="M806 506.5V515.5" stroke="#000" stroke-width="2"/>
<text x="805.4" y="531.8" font-size="15.6" font-weight="bold" text-anchor="middle" font-family="Liberation Sans, sans-serif">5</text>
<path d="M840.4 506.5V515.5" stroke="#000" stroke-width="2"/>
<text x="839.8" y="531.8" font-size="15.6" font-weight="bold" text-anchor="middle" font-family="Liberation Sans, sans-serif">6</text>
<path d="M874.8 506.5V515.5" stroke="#000" stroke-width="2"/>
<text x="874.2" y="531.8" font-size="15.6" font-weight="bold" text-anchor="middle" font-family="Liberation Sans, sans-serif">7</text>
<path d="M909.2 506.5V515.5" stroke="#000" stroke-width="2"/>
<text x="908.6" y="531.8" font-size="15.6" font-weight="bold" text-anchor="middle" font-family="Liberation Sans, sans-serif">8</text>
<path d="M943.6 506.5V515.5" stroke="#000" stroke-width="2"/>
<text x="943" y="531.8" font-size="15.6" font-weight="bold" text-anchor="middle" font-family="Liberation Sans, sans-serif">9</text>
<path d="M635 403.2H942.6" stroke="#000" stroke-width="1.8" stroke-dasharray="0 6.14" stroke-linecap="round" fill="none"/>
<polyline points="634,403.2 668.4,398.55 702.8,391.11 737.2,401.96 771.6,408.26 806,391.63 840.4,422.41 874.8,405.47 909.2,384.71 943.6,397.42" fill="none" stroke="#0000cc" stroke-width="1"/>
<path d="M702.8 377.38V391.11M698.3 377.38H707.3" stroke="#0000cc" stroke-width="1" fill="none"/>
<path d="M737.2 386.36V401.96M732.7 386.36H741.7" stroke="#0000cc" stroke-width="1" fill="none"/>
<path d="M771.6 372.93V408.26M767.1 372.93H776.1" stroke="#0000cc" stroke-width="1" fill="none"/>
<path d="M806 368.59V391.63M801.5 368.59H810.5" stroke="#0000cc" stroke-width="1" fill="none"/>
<path d="M840.4 390.7V422.41M835.9 390.7H844.9" stroke="#0000cc" stroke-width="1" fill="none"/>
<path d="M874.8 379.44V405.47M870.3 379.44H879.3" stroke="#0000cc" stroke-width="1" fill="none"/>
<path d="M909.2 363.43V384.71M904.7 363.43H913.7" stroke="#0000cc" stroke-width="1" fill="none"/>
<path d="M943.6 381.71V397.42M939.1 381.71H948.1" stroke="#0000cc" stroke-width="1" fill="none"/>
<path d="M629.3 407.4L638.7 407.4L634 398.47Z" fill="#0000cc"/>
<path d="M663.7 402.75L673.1 402.75L668.4 393.82Z" fill="#0000cc"/>
<path d="M698.1 395.31L707.5 395.31L702.8 386.38Z" fill="#0000cc"/>
<path d="M732.5 406.16L741.9 406.16L737.2 397.23Z" fill="#0000cc"/>
<path d="M766.9 412.46L776.3 412.46L771.6 403.53Z" fill="#0000cc"/>
<path d="M801.3 395.83L810.7 395.83L806 386.9Z" fill="#0000cc"/>
<path d="M835.7 426.61L845.1 426.61L840.4 417.68Z" fill="#0000cc"/>
<path d="M870.1 409.67L879.5 409.67L874.8 400.74Z" fill="#0000cc"/>
<path d="M904.5 388.91L913.9 388.91L909.2 379.98Z" fill="#0000cc"/>
<path d="M938.9 401.61L948.3 401.61L943.6 392.68Z" fill="#0000cc"/>
<polyline points="634,403.2 668.4,407.33 702.8,398.55 737.2,439.36 771.6,470.14 806,446.38 840.4,460.22 874.8,448.96 909.2,420.76 943.6,423.96" fill="none" stroke="#ff0000" stroke-width="1"/>
<path d="M702.8 386.67V398.55M698.3 386.67H707.3" stroke="#ff0000" stroke-width="1" fill="none"/>
<path d="M737.2 430.06V439.36M732.7 430.06H741.7" stroke="#ff0000" stroke-width="1" fill="none"/>
<path d="M771.6 460.43V470.14M767.1 460.43H776.1" stroke="#ff0000" stroke-width="1" fill="none"/>
<path d="M806 434.4V446.38M801.5 434.4H810.5" stroke="#ff0000" stroke-width="1" fill="none"/>
<path d="M840.4 449.38V460.22M835.9 449.38H844.9" stroke="#ff0000" stroke-width="1" fill="none"/>
<rect x="629.4" y="398.6" width="9.2" height="9.2" fill="#ff0000"/>
<rect x="663.8" y="402.73" width="9.2" height="9.2" fill="#ff0000"/>
<rect x="698.2" y="393.95" width="9.2" height="9.2" fill="#ff0000"/>
<rect x="732.6" y="434.75" width="9.2" height="9.2" fill="#ff0000"/>
<rect x="767" y="465.54" width="9.2" height="9.2" fill="#ff0000"/>
<rect x="801.4" y="441.78" width="9.2" height="9.2" fill="#ff0000"/>
<rect x="835.8" y="455.62" width="9.2" height="9.2" fill="#ff0000"/>
<rect x="870.2" y="444.36" width="9.2" height="9.2" fill="#ff0000"/>
<rect x="904.6" y="416.16" width="9.2" height="9.2" fill="#ff0000"/>
<rect x="939" y="419.36" width="9.2" height="9.2" fill="#ff0000"/>
<polyline points="634,403.2 668.4,391.84 702.8,396.18 737.2,378.72 771.6,350.72 806,354.75 840.4,372 874.8,361.16 909.2,348.24 943.6,370.45" fill="none" stroke="#000" stroke-width="1"/>
<path d="M668.4 385.12V391.84M663.9 385.12H672.9" stroke="#000" stroke-width="1" fill="none"/>
<path d="M702.8 371.28V396.18M698.3 371.28H707.3" stroke="#000" stroke-width="1" fill="none"/>
<path d="M737.2 362.5V378.72M732.7 362.5H741.7" stroke="#000" stroke-width="1" fill="none"/>
<path d="M771.6 340.19V350.72M767.1 340.19H776.1" stroke="#000" stroke-width="1" fill="none"/>
<path d="M806 335.75V354.75M801.5 335.75H810.5" stroke="#000" stroke-width="1" fill="none"/>
<path d="M840.4 353.51V372M835.9 353.51H844.9" stroke="#000" stroke-width="1" fill="none"/>
<path d="M874.8 349.38V361.16M870.3 349.38H879.3" stroke="#000" stroke-width="1" fill="none"/>
<path d="M909.2 339.88V348.24M904.7 339.88H913.7" stroke="#000" stroke-width="1" fill="none"/>
<circle cx="634" cy="403.2" r="4.7" fill="#000"/>
<circle cx="668.4" cy="391.84" r="4.7" fill="#000"/>
<circle cx="702.8" cy="396.18" r="4.7" fill="#000"/>
<circle cx="737.2" cy="378.72" r="4.7" fill="#000"/>
<circle cx="771.6" cy="350.72" r="4.7" fill="#000"/>
<circle cx="806" cy="354.75" r="4.7" fill="#000"/>
<circle cx="840.4" cy="372" r="4.7" fill="#000"/>
<circle cx="874.8" cy="361.16" r="4.7" fill="#000"/>
<circle cx="909.2" cy="348.24" r="4.7" fill="#000"/>
<circle cx="943.6" cy="370.45" r="4.7" fill="#000"/>
<path d="M641 255.4H663.8" stroke="#000" stroke-width="1"/>
<circle cx="652.4" cy="255.4" r="4.6" fill="#000"/>
<text x="675.3" y="259.8" font-size="14.45" font-family="Liberation Serif, serif">Group A Normal</text>
<path d="M641 280.2H663.8" stroke="#ff0000" stroke-width="1"/>
<rect x="647.8" y="275.6" width="9.2" height="9.2" fill="#ff0000"/>
<text x="675.3" y="284.6" font-size="14.45" font-family="Liberation Serif, serif">Group B Model</text>
<path d="M641 304.8H663.8" stroke="#0000cc" stroke-width="1"/>
<path d="M647.8 308.91L657 308.91L652.4 300.17Z" fill="#0000cc"/>
<text x="675.3" y="309.2" font-size="14.45" font-family="Liberation Serif, serif">Group C Treatment</text>
<text transform="translate(588.8 403.3) rotate(-90)" font-size="17.4" font-weight="bold" text-anchor="middle" font-family="Liberation Serif, serif">Body weight changes (%)</text>
<text x="788" y="556" font-size="16" font-weight="bold" text-anchor="middle" font-family="Liberation Serif, serif">Days</text>
<path d="M1080.7 317.75V560H1243.7" stroke="#000" stroke-width="2.4" fill="none"/>
<path d="M1071.3 318.95H1080.7" stroke="#000" stroke-width="2.4"/>
<text x="1068.7" y="325.35" font-size="18" font-weight="bold" text-anchor="end" font-family="Liberation Sans, sans-serif">15</text>
<path d="M1071.3 399.3H1080.7" stroke="#000" stroke-width="2.4"/>
<text x="1068.7" y="405.7" font-size="18" font-weight="bold" text-anchor="end" font-family="Liberation Sans, sans-serif">10</text>
<path d="M1071.3 479.65H1080.7" stroke="#000" stroke-width="2.4"/>
<text x="1068.7" y="486.05" font-size="18" font-weight="bold" text-anchor="end" font-family="Liberation Sans, sans-serif">5</text>
<path d="M1071.3 560H1080.7" stroke="#000" stroke-width="2.4"/>
<text x="1068.7" y="566.4" font-size="18" font-weight="bold" text-anchor="end" font-family="Liberation Sans, sans-serif">0</text>
<path d="M1113.4 560V570" stroke="#000" stroke-width="2.4"/>
<path d="M1161.3 560V570" stroke="#000" stroke-width="2.4"/>
<path d="M1209.6 560V570" stroke="#000" stroke-width="2.4"/>
<path d="M1161.2 352.5V362M1153.5 352.5H1169" stroke="#ff0000" stroke-width="1.2" fill="none"/>
<rect x="1145.2" y="361.9" width="33" height="197.1" fill="#ff0000"/>
<path d="M1209.8 540.2V549.5M1202 540.2H1217.6" stroke="#0000ff" stroke-width="1.2" fill="none"/>
<rect x="1193.7" y="549.1" width="32.3" height="9.9" fill="#0000ff"/>
<path d="M1113.5 342.5H1158.5M1113.5 339.5V345.5M1158.5 339.5V345.5" stroke="#000" stroke-width="1" fill="none"/>
<text x="1137.2" y="339.4" font-size="22" font-weight="bold" text-anchor="middle" letter-spacing="2.4" font-family="Liberation Sans, sans-serif">**</text>
<path d="M1166.5 342.5H1209.5M1166.5 339.5V345.5M1209.5 339.5V345.5" stroke="#000" stroke-width="1" fill="none"/>
<text x="1189.2" y="340.5" font-size="22" font-weight="bold" text-anchor="middle" letter-spacing="2.4" font-family="Liberation Sans, sans-serif">**</text>
<rect x="1101.3" y="209.4" width="25.8" height="11.4" fill="#000"/>
<text x="1141.6" y="220.3" font-size="19.5" font-family="Liberation Serif, serif">Group A Normal</text>
<rect x="1101.3" y="240.9" width="25.8" height="11.4" fill="#ff0000"/>
<text x="1141.6" y="251.8" font-size="19.5" font-family="Liberation Serif, serif">Group B Model</text>
<rect x="1101.3" y="272.6" width="25.8" height="11.4" fill="#0000ff"/>
<text x="1141.6" y="283.5" font-size="19.5" font-family="Liberation Serif, serif">Group C Treatment</text>
<text transform="translate(1035.3 440) rotate(-90)" font-size="19.8" font-weight="bold" text-anchor="middle" font-family="Liberation Sans, sans-serif">Pathology Score</text>
</svg>
<svg id="hlogo" width="1629" height="60" viewBox="0 0 1629 60">
<path d="M1471.9 21.8 C1476 16.5 1484 11.3 1490.5 12.6 C1492.3 13 1493.3 13.8 1493.6 14.6 C1493.9 13.8 1494.9 13 1496.7 12.6 C1503.2 11.3 1511.2 16.5 1515.3 21.8 C1512 25.5 1507 29.3 1503.8 30.9 L1483.4 30.9 C1480.2 29.3 1475.2 25.5 1471.9 21.8Z" fill="#2fb040"/>
<path d="M1486.9 9.2 C1488.5 11.6 1491.3 12.7 1493.6 12.7 C1495.9 12.7 1498.6 11.5 1500.2 9 " stroke="#2fb040" stroke-width="1.25" fill="none" stroke-linecap="round"/>
<path d="M1493.6 23.2 C1499.5 23.2 1503.6 27.6 1503.3 32.6 C1503 37.2 1497.5 42.5 1493.6 46.3 C1489.7 42.5 1484.2 37.2 1483.9 32.6 C1483.6 27.6 1487.7 23.2 1493.6 23.2Z" fill="#1470bd" stroke="#ffffff" stroke-width="0.3" stroke-opacity="0.7"/>
<path d="M1493.6 12.5 L1494.3 22 L1493.6 40 L1492.9 22Z" fill="#ffffff" opacity="1"/>
<path d="M1478 22 L1493.6 21.65 L1509 22 L1493.6 22.4Z" fill="#ffffff" opacity="1"/>
<path transform="translate(1521 14.96) scale(0.172 0.174)" d="M2 6 H98 M0 34 H100 M49 0 V100 M27 44 L6 100 M71 44 L92 100" stroke="#1470bd" stroke-width="15.9" fill="none" stroke-linejoin="round"/>
<path transform="translate(1540.3 14.96) scale(0.172 0.174)" d="M5 6 H95 M0 49 H100 M38.5 6 V60 Q38 88 5 99 M72 6 V100" stroke="#1470bd" stroke-width="15.9" fill="none" stroke-linejoin="round"/>
<path transform="translate(1559.4 14.96) scale(0.172 0.174)" d="M18 0 L4 32 M9 22 H97 M47.6 0 V93 M6 57 H95 M0 93.4 H100" stroke="#1470bd" stroke-width="15.9" fill="none" stroke-linejoin="round"/>
<path transform="translate(1578.4 14.96) scale(0.172 0.174)" d="M23 0 V100 M8 2 L3 28 M0 28 H36 M0 74 L37 57 M54 0 L41 34 M47 13 H96 L97 86 Q96 97 78 97 M81 15 L45 56 M90 45 L48 89" stroke="#1470bd" stroke-width="15.9" fill="none" stroke-linejoin="round"/>
<text x="1532" y="43.3" font-size="7.3" letter-spacing="3.3" fill="#45b549" stroke="#45b549" stroke-width="0.25" font-family="Liberation Sans, sans-serif">HKEYBIO</text>
<path d="M1521.3 40.4H1528.5M1587.5 40.4H1595.2" stroke="#45b549" stroke-width="0.5"/>
</svg>
<h1 style="top:96.1px;left:3px;width:1626px">IMQ Induced Wistar Psoriasis Model</h1>
<div class="cap" style="left:139.6px;top:716px">Fig 1  PASI Score</div>
<div class="cap" style="left:708.2px;top:596px">Fig 2 Body Weight</div>
<div class="cap" style="left:1177.4px;top:596px">Fig 3 Pathology</div>
<div class="lab" style="left:1326.8px;top:238px">Normal</div>
<div class="lab" style="left:1332.8px;top:335.6px">Model</div>
<div class="lab" style="left:1328.2px;top:424px">Treatment</div>
</body></html>
